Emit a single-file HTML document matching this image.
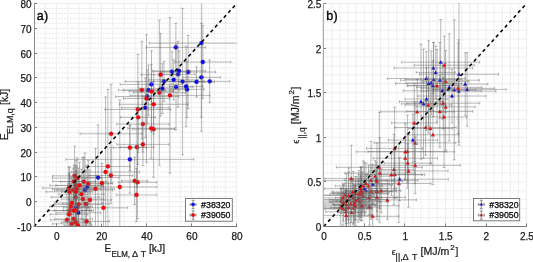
<!DOCTYPE html><html><head><meta charset="utf-8"><style>html,body{margin:0;padding:0;background:#fff;overflow:hidden}svg{display:block;will-change:transform}</style></head><body><svg width="533" height="262" viewBox="0 0 533 262">
<rect width="533" height="262" fill="#fff"/>
<line x1="45.17" y1="3.5" x2="45.17" y2="226.5" stroke="#e4e4e4" stroke-width="1" stroke-dasharray="1.8 1.2"/>
<line x1="67.70" y1="3.5" x2="67.70" y2="226.5" stroke="#e4e4e4" stroke-width="1" stroke-dasharray="1.8 1.2"/>
<line x1="78.97" y1="3.5" x2="78.97" y2="226.5" stroke="#e4e4e4" stroke-width="1" stroke-dasharray="1.8 1.2"/>
<line x1="90.23" y1="3.5" x2="90.23" y2="226.5" stroke="#e4e4e4" stroke-width="1" stroke-dasharray="1.8 1.2"/>
<line x1="112.77" y1="3.5" x2="112.77" y2="226.5" stroke="#e4e4e4" stroke-width="1" stroke-dasharray="1.8 1.2"/>
<line x1="124.03" y1="3.5" x2="124.03" y2="226.5" stroke="#e4e4e4" stroke-width="1" stroke-dasharray="1.8 1.2"/>
<line x1="135.30" y1="3.5" x2="135.30" y2="226.5" stroke="#e4e4e4" stroke-width="1" stroke-dasharray="1.8 1.2"/>
<line x1="157.83" y1="3.5" x2="157.83" y2="226.5" stroke="#e4e4e4" stroke-width="1" stroke-dasharray="1.8 1.2"/>
<line x1="169.10" y1="3.5" x2="169.10" y2="226.5" stroke="#e4e4e4" stroke-width="1" stroke-dasharray="1.8 1.2"/>
<line x1="180.37" y1="3.5" x2="180.37" y2="226.5" stroke="#e4e4e4" stroke-width="1" stroke-dasharray="1.8 1.2"/>
<line x1="202.90" y1="3.5" x2="202.90" y2="226.5" stroke="#e4e4e4" stroke-width="1" stroke-dasharray="1.8 1.2"/>
<line x1="214.17" y1="3.5" x2="214.17" y2="226.5" stroke="#e4e4e4" stroke-width="1" stroke-dasharray="1.8 1.2"/>
<line x1="225.43" y1="3.5" x2="225.43" y2="226.5" stroke="#e4e4e4" stroke-width="1" stroke-dasharray="1.8 1.2"/>
<line x1="33.9" y1="221.54" x2="236.7" y2="221.54" stroke="#e4e4e4" stroke-width="1" stroke-dasharray="1.8 1.2"/>
<line x1="33.9" y1="216.59" x2="236.7" y2="216.59" stroke="#e4e4e4" stroke-width="1" stroke-dasharray="1.8 1.2"/>
<line x1="33.9" y1="211.63" x2="236.7" y2="211.63" stroke="#e4e4e4" stroke-width="1" stroke-dasharray="1.8 1.2"/>
<line x1="33.9" y1="206.68" x2="236.7" y2="206.68" stroke="#e4e4e4" stroke-width="1" stroke-dasharray="1.8 1.2"/>
<line x1="33.9" y1="196.77" x2="236.7" y2="196.77" stroke="#e4e4e4" stroke-width="1" stroke-dasharray="1.8 1.2"/>
<line x1="33.9" y1="191.81" x2="236.7" y2="191.81" stroke="#e4e4e4" stroke-width="1" stroke-dasharray="1.8 1.2"/>
<line x1="33.9" y1="186.86" x2="236.7" y2="186.86" stroke="#e4e4e4" stroke-width="1" stroke-dasharray="1.8 1.2"/>
<line x1="33.9" y1="181.90" x2="236.7" y2="181.90" stroke="#e4e4e4" stroke-width="1" stroke-dasharray="1.8 1.2"/>
<line x1="33.9" y1="171.99" x2="236.7" y2="171.99" stroke="#e4e4e4" stroke-width="1" stroke-dasharray="1.8 1.2"/>
<line x1="33.9" y1="167.03" x2="236.7" y2="167.03" stroke="#e4e4e4" stroke-width="1" stroke-dasharray="1.8 1.2"/>
<line x1="33.9" y1="162.08" x2="236.7" y2="162.08" stroke="#e4e4e4" stroke-width="1" stroke-dasharray="1.8 1.2"/>
<line x1="33.9" y1="157.12" x2="236.7" y2="157.12" stroke="#e4e4e4" stroke-width="1" stroke-dasharray="1.8 1.2"/>
<line x1="33.9" y1="147.21" x2="236.7" y2="147.21" stroke="#e4e4e4" stroke-width="1" stroke-dasharray="1.8 1.2"/>
<line x1="33.9" y1="142.26" x2="236.7" y2="142.26" stroke="#e4e4e4" stroke-width="1" stroke-dasharray="1.8 1.2"/>
<line x1="33.9" y1="137.30" x2="236.7" y2="137.30" stroke="#e4e4e4" stroke-width="1" stroke-dasharray="1.8 1.2"/>
<line x1="33.9" y1="132.34" x2="236.7" y2="132.34" stroke="#e4e4e4" stroke-width="1" stroke-dasharray="1.8 1.2"/>
<line x1="33.9" y1="122.43" x2="236.7" y2="122.43" stroke="#e4e4e4" stroke-width="1" stroke-dasharray="1.8 1.2"/>
<line x1="33.9" y1="117.48" x2="236.7" y2="117.48" stroke="#e4e4e4" stroke-width="1" stroke-dasharray="1.8 1.2"/>
<line x1="33.9" y1="112.52" x2="236.7" y2="112.52" stroke="#e4e4e4" stroke-width="1" stroke-dasharray="1.8 1.2"/>
<line x1="33.9" y1="107.57" x2="236.7" y2="107.57" stroke="#e4e4e4" stroke-width="1" stroke-dasharray="1.8 1.2"/>
<line x1="33.9" y1="97.66" x2="236.7" y2="97.66" stroke="#e4e4e4" stroke-width="1" stroke-dasharray="1.8 1.2"/>
<line x1="33.9" y1="92.70" x2="236.7" y2="92.70" stroke="#e4e4e4" stroke-width="1" stroke-dasharray="1.8 1.2"/>
<line x1="33.9" y1="87.74" x2="236.7" y2="87.74" stroke="#e4e4e4" stroke-width="1" stroke-dasharray="1.8 1.2"/>
<line x1="33.9" y1="82.79" x2="236.7" y2="82.79" stroke="#e4e4e4" stroke-width="1" stroke-dasharray="1.8 1.2"/>
<line x1="33.9" y1="72.88" x2="236.7" y2="72.88" stroke="#e4e4e4" stroke-width="1" stroke-dasharray="1.8 1.2"/>
<line x1="33.9" y1="67.92" x2="236.7" y2="67.92" stroke="#e4e4e4" stroke-width="1" stroke-dasharray="1.8 1.2"/>
<line x1="33.9" y1="62.97" x2="236.7" y2="62.97" stroke="#e4e4e4" stroke-width="1" stroke-dasharray="1.8 1.2"/>
<line x1="33.9" y1="58.01" x2="236.7" y2="58.01" stroke="#e4e4e4" stroke-width="1" stroke-dasharray="1.8 1.2"/>
<line x1="33.9" y1="48.10" x2="236.7" y2="48.10" stroke="#e4e4e4" stroke-width="1" stroke-dasharray="1.8 1.2"/>
<line x1="33.9" y1="43.14" x2="236.7" y2="43.14" stroke="#e4e4e4" stroke-width="1" stroke-dasharray="1.8 1.2"/>
<line x1="33.9" y1="38.19" x2="236.7" y2="38.19" stroke="#e4e4e4" stroke-width="1" stroke-dasharray="1.8 1.2"/>
<line x1="33.9" y1="33.23" x2="236.7" y2="33.23" stroke="#e4e4e4" stroke-width="1" stroke-dasharray="1.8 1.2"/>
<line x1="33.9" y1="23.32" x2="236.7" y2="23.32" stroke="#e4e4e4" stroke-width="1" stroke-dasharray="1.8 1.2"/>
<line x1="33.9" y1="18.37" x2="236.7" y2="18.37" stroke="#e4e4e4" stroke-width="1" stroke-dasharray="1.8 1.2"/>
<line x1="33.9" y1="13.41" x2="236.7" y2="13.41" stroke="#e4e4e4" stroke-width="1" stroke-dasharray="1.8 1.2"/>
<line x1="33.9" y1="8.46" x2="236.7" y2="8.46" stroke="#e4e4e4" stroke-width="1" stroke-dasharray="1.8 1.2"/>
<line x1="56.43" y1="3.5" x2="56.43" y2="226.5" stroke="#ededed" stroke-width="1"/>
<line x1="101.50" y1="3.5" x2="101.50" y2="226.5" stroke="#ededed" stroke-width="1"/>
<line x1="146.57" y1="3.5" x2="146.57" y2="226.5" stroke="#ededed" stroke-width="1"/>
<line x1="191.63" y1="3.5" x2="191.63" y2="226.5" stroke="#ededed" stroke-width="1"/>
<line x1="236.70" y1="3.5" x2="236.70" y2="226.5" stroke="#ededed" stroke-width="1"/>
<line x1="33.9" y1="201.72" x2="236.7" y2="201.72" stroke="#ededed" stroke-width="1"/>
<line x1="33.9" y1="176.94" x2="236.7" y2="176.94" stroke="#ededed" stroke-width="1"/>
<line x1="33.9" y1="152.17" x2="236.7" y2="152.17" stroke="#ededed" stroke-width="1"/>
<line x1="33.9" y1="127.39" x2="236.7" y2="127.39" stroke="#ededed" stroke-width="1"/>
<line x1="33.9" y1="102.61" x2="236.7" y2="102.61" stroke="#ededed" stroke-width="1"/>
<line x1="33.9" y1="77.83" x2="236.7" y2="77.83" stroke="#ededed" stroke-width="1"/>
<line x1="33.9" y1="53.06" x2="236.7" y2="53.06" stroke="#ededed" stroke-width="1"/>
<line x1="33.9" y1="28.28" x2="236.7" y2="28.28" stroke="#ededed" stroke-width="1"/>
<line x1="33.9" y1="3.50" x2="236.7" y2="3.50" stroke="#ededed" stroke-width="1"/>
<defs><clipPath id="ca"><rect x="33.9" y="3.5" width="202.79999999999998" height="223.5"/></clipPath><clipPath id="cb"><rect x="323.7" y="3.5" width="202.90000000000003" height="223.5"/></clipPath></defs>
<g clip-path="url(#ca)">
<g stroke="#686868" stroke-width="0.45" fill="none">
<path d="M160.5 72.0H215.7M160.5 70.6V73.4M215.7 70.6V73.4"/>
<path d="M188.1 35.5V108.5M186.7 35.5H189.5M186.7 108.5H189.5"/>
</g>
<circle cx="188.1" cy="72.0" r="2.15" fill="#0000ff" stroke="#6a6a6a" stroke-width="0.35"/>
<g stroke="#686868" stroke-width="0.45" fill="none">
<path d="M57.2 190.0H112.6M57.2 188.6V191.4M112.6 188.6V191.4"/>
<path d="M84.9 153.0V227.0M83.5 153.0H86.3M83.5 227.0H86.3"/>
</g>
<circle cx="84.9" cy="190.0" r="2.15" fill="#0000ff" stroke="#6a6a6a" stroke-width="0.35"/>
<g stroke="#686868" stroke-width="0.45" fill="none">
<path d="M65.9 159.4H193.9M65.9 158.0V160.8M193.9 158.0V160.8"/>
<path d="M129.9 125.7V193.1M128.5 125.7H131.3M128.5 193.1H131.3"/>
</g>
<circle cx="129.9" cy="159.4" r="2.15" fill="#0000ff" stroke="#6a6a6a" stroke-width="0.35"/>
<g stroke="#686868" stroke-width="0.45" fill="none">
<path d="M70.7 187.0H103.9M70.7 185.6V188.4M103.9 185.6V188.4"/>
<path d="M87.3 165.0V209.0M85.9 165.0H88.7M85.9 209.0H88.7"/>
</g>
<circle cx="87.3" cy="187.0" r="2.15" fill="#0000ff" stroke="#6a6a6a" stroke-width="0.35"/>
<g stroke="#686868" stroke-width="0.45" fill="none">
<path d="M146.2 47.4H205.6M146.2 46.0V48.8M205.6 46.0V48.8"/>
<path d="M175.9 23.3V71.5M174.5 23.3H177.3M174.5 71.5H177.3"/>
</g>
<circle cx="175.9" cy="47.4" r="2.15" fill="#0000ff" stroke="#6a6a6a" stroke-width="0.35"/>
<g stroke="#686868" stroke-width="0.45" fill="none">
<path d="M160.8 74.3H195.2M160.8 72.9V75.7M195.2 72.9V75.7"/>
<path d="M178.0 41.3V107.3M176.6 41.3H179.4M176.6 107.3H179.4"/>
</g>
<circle cx="178.0" cy="74.3" r="2.15" fill="#0000ff" stroke="#6a6a6a" stroke-width="0.35"/>
<g stroke="#686868" stroke-width="0.45" fill="none">
<path d="M169.9 89.4H204.1M169.9 88.0V90.8M204.1 88.0V90.8"/>
<path d="M187.0 61.2V117.6M185.6 61.2H188.4M185.6 117.6H188.4"/>
</g>
<circle cx="187.0" cy="89.4" r="2.15" fill="#0000ff" stroke="#6a6a6a" stroke-width="0.35"/>
<g stroke="#686868" stroke-width="0.45" fill="none">
<path d="M159.1 87.1H192.9M159.1 85.7V88.5M192.9 85.7V88.5"/>
<path d="M176.0 44.3V129.9M174.6 44.3H177.4M174.6 129.9H177.4"/>
</g>
<circle cx="176.0" cy="87.1" r="2.15" fill="#0000ff" stroke="#6a6a6a" stroke-width="0.35"/>
<g stroke="#686868" stroke-width="0.45" fill="none">
<path d="M125.3 81.4H202.7M125.3 80.0V82.8M202.7 80.0V82.8"/>
<path d="M164.0 61.4V101.4M162.6 61.4H165.4M162.6 101.4H165.4"/>
</g>
<circle cx="164.0" cy="81.4" r="2.15" fill="#0000ff" stroke="#6a6a6a" stroke-width="0.35"/>
<g stroke="#686868" stroke-width="0.45" fill="none">
<path d="M182.4 77.3H220.4M182.4 75.9V78.7M220.4 75.9V78.7"/>
<path d="M201.4 23.4V131.2M200.0 23.4H202.8M200.0 131.2H202.8"/>
</g>
<circle cx="201.4" cy="77.3" r="2.15" fill="#0000ff" stroke="#6a6a6a" stroke-width="0.35"/>
<g stroke="#686868" stroke-width="0.45" fill="none">
<path d="M55.9 212.8H100.7M55.9 211.4V214.2M100.7 211.4V214.2"/>
<path d="M78.3 168.0V257.6M76.9 168.0H79.7M76.9 257.6H79.7"/>
</g>
<circle cx="78.3" cy="212.8" r="2.15" fill="#0000ff" stroke="#6a6a6a" stroke-width="0.35"/>
<g stroke="#686868" stroke-width="0.45" fill="none">
<path d="M77.3 177.6H118.9M77.3 176.2V179.0M118.9 176.2V179.0"/>
<path d="M98.1 124.9V230.3M96.7 124.9H99.5M96.7 230.3H99.5"/>
</g>
<circle cx="98.1" cy="177.6" r="2.15" fill="#0000ff" stroke="#6a6a6a" stroke-width="0.35"/>
<g stroke="#686868" stroke-width="0.45" fill="none">
<path d="M139.5 88.7H185.1M139.5 87.3V90.1M185.1 87.3V90.1"/>
<path d="M162.3 63.7V113.7M160.9 63.7H163.7M160.9 113.7H163.7"/>
</g>
<circle cx="162.3" cy="88.7" r="2.15" fill="#0000ff" stroke="#6a6a6a" stroke-width="0.35"/>
<g stroke="#686868" stroke-width="0.45" fill="none">
<path d="M153.6 71.6H190.4M153.6 70.2V73.0M190.4 70.2V73.0"/>
<path d="M172.0 51.6V91.6M170.6 51.6H173.4M170.6 91.6H173.4"/>
</g>
<circle cx="172.0" cy="71.6" r="2.15" fill="#0000ff" stroke="#6a6a6a" stroke-width="0.35"/>
<g stroke="#686868" stroke-width="0.45" fill="none">
<path d="M189.7 81.3H229.7M189.7 79.9V82.7M229.7 79.9V82.7"/>
<path d="M209.7 60.0V102.6M208.3 60.0H211.1M208.3 102.6H211.1"/>
</g>
<circle cx="209.7" cy="81.3" r="2.15" fill="#0000ff" stroke="#6a6a6a" stroke-width="0.35"/>
<g stroke="#686868" stroke-width="0.45" fill="none">
<path d="M160.7 81.6H204.5M160.7 80.2V83.0M204.5 80.2V83.0"/>
<path d="M182.6 8.3V154.9M181.2 8.3H184.0M181.2 154.9H184.0"/>
</g>
<circle cx="182.6" cy="81.6" r="2.15" fill="#0000ff" stroke="#6a6a6a" stroke-width="0.35"/>
<g stroke="#686868" stroke-width="0.45" fill="none">
<path d="M121.6 107.8H169.0M121.6 106.4V109.2M169.0 106.4V109.2"/>
<path d="M145.3 77.8V137.8M143.9 77.8H146.7M143.9 137.8H146.7"/>
</g>
<circle cx="145.3" cy="107.8" r="2.15" fill="#0000ff" stroke="#6a6a6a" stroke-width="0.35"/>
<g stroke="#686868" stroke-width="0.45" fill="none">
<path d="M149.4 43.1H253.4M149.4 41.7V44.5M253.4 41.7V44.5"/>
<path d="M201.4 -30.9V117.1M200.0 -30.9H202.8M200.0 117.1H202.8"/>
</g>
<circle cx="201.4" cy="43.1" r="2.15" fill="#0000ff" stroke="#6a6a6a" stroke-width="0.35"/>
<g stroke="#686868" stroke-width="0.45" fill="none">
<path d="M174.8 62.0H230.8M174.8 60.6V63.4M230.8 60.6V63.4"/>
<path d="M202.8 25.7V98.3M201.4 25.7H204.2M201.4 98.3H204.2"/>
</g>
<circle cx="202.8" cy="62.0" r="2.15" fill="#0000ff" stroke="#6a6a6a" stroke-width="0.35"/>
<g stroke="#686868" stroke-width="0.45" fill="none">
<path d="M63.2 207.6H89.2M63.2 206.2V209.0M89.2 206.2V209.0"/>
<path d="M76.2 166.9V248.3M74.8 166.9H77.6M74.8 248.3H77.6"/>
</g>
<circle cx="76.2" cy="207.6" r="2.15" fill="#0000ff" stroke="#6a6a6a" stroke-width="0.35"/>
<g stroke="#686868" stroke-width="0.45" fill="none">
<path d="M178.5 81.9H214.5M178.5 80.5V83.3M214.5 80.5V83.3"/>
<path d="M196.5 66.9V96.9M195.1 66.9H197.9M195.1 96.9H197.9"/>
</g>
<circle cx="196.5" cy="81.9" r="2.15" fill="#0000ff" stroke="#6a6a6a" stroke-width="0.35"/>
<g stroke="#686868" stroke-width="0.45" fill="none">
<path d="M115.6 96.5H178.8M115.6 95.1V97.9M178.8 95.1V97.9"/>
<path d="M147.2 69.9V123.1M145.8 69.9H148.6M145.8 123.1H148.6"/>
</g>
<circle cx="147.2" cy="96.5" r="2.15" fill="#0000ff" stroke="#6a6a6a" stroke-width="0.35"/>
<g stroke="#686868" stroke-width="0.45" fill="none">
<path d="M169.5 86.4H202.7M169.5 85.0V87.8M202.7 85.0V87.8"/>
<path d="M186.1 46.2V126.6M184.7 46.2H187.5M184.7 126.6H187.5"/>
</g>
<circle cx="186.1" cy="86.4" r="2.15" fill="#0000ff" stroke="#6a6a6a" stroke-width="0.35"/>
<g stroke="#686868" stroke-width="0.45" fill="none">
<path d="M152.6 70.9H205.4M152.6 69.5V72.3M205.4 69.5V72.3"/>
<path d="M179.0 50.9V90.9M177.6 50.9H180.4M177.6 90.9H180.4"/>
</g>
<circle cx="179.0" cy="70.9" r="2.15" fill="#0000ff" stroke="#6a6a6a" stroke-width="0.35"/>
<g stroke="#686868" stroke-width="0.45" fill="none">
<path d="M120.1 84.4H182.5M120.1 83.0V85.8M182.5 83.0V85.8"/>
<path d="M151.3 64.4V104.4M149.9 64.4H152.7M149.9 104.4H152.7"/>
</g>
<circle cx="151.3" cy="84.4" r="2.15" fill="#0000ff" stroke="#6a6a6a" stroke-width="0.35"/>
<g stroke="#686868" stroke-width="0.45" fill="none">
<path d="M123.3 90.2H173.7M123.3 88.8V91.6M173.7 88.8V91.6"/>
<path d="M148.5 65.2V115.2M147.1 65.2H149.9M147.1 115.2H149.9"/>
</g>
<circle cx="148.5" cy="90.2" r="2.15" fill="#0000ff" stroke="#6a6a6a" stroke-width="0.35"/>
<g stroke="#686868" stroke-width="0.45" fill="none">
<path d="M149.1 79.8H198.3M149.1 78.4V81.2M198.3 78.4V81.2"/>
<path d="M173.7 59.8V99.8M172.3 59.8H175.1M172.3 99.8H175.1"/>
</g>
<circle cx="173.7" cy="79.8" r="2.15" fill="#0000ff" stroke="#6a6a6a" stroke-width="0.35"/>
<g stroke="#686868" stroke-width="0.45" fill="none">
<path d="M54.7 204.3H102.7M54.7 202.9V205.7M102.7 202.9V205.7"/>
<path d="M78.7 179.3V229.3M77.3 179.3H80.1M77.3 229.3H80.1"/>
</g>
<circle cx="78.7" cy="204.3" r="2.15" fill="#ff0000" stroke="#6a6a6a" stroke-width="0.35"/>
<g stroke="#686868" stroke-width="0.45" fill="none">
<path d="M118.4 90.1H165.4M118.4 88.7V91.5M165.4 88.7V91.5"/>
<path d="M141.9 41.4V138.8M140.5 41.4H143.3M140.5 138.8H143.3"/>
</g>
<circle cx="141.9" cy="90.1" r="2.15" fill="#ff0000" stroke="#6a6a6a" stroke-width="0.35"/>
<g stroke="#686868" stroke-width="0.45" fill="none">
<path d="M51.3 197.2H99.7M51.3 195.8V198.6M99.7 195.8V198.6"/>
<path d="M75.5 175.2V219.2M74.1 175.2H76.9M74.1 219.2H76.9"/>
</g>
<circle cx="75.5" cy="197.2" r="2.15" fill="#ff0000" stroke="#6a6a6a" stroke-width="0.35"/>
<g stroke="#686868" stroke-width="0.45" fill="none">
<path d="M54.7 219.0H92.7M54.7 217.6V220.4M92.7 217.6V220.4"/>
<path d="M73.7 191.0V247.0M72.3 191.0H75.1M72.3 247.0H75.1"/>
</g>
<circle cx="73.7" cy="219.0" r="2.15" fill="#ff0000" stroke="#6a6a6a" stroke-width="0.35"/>
<g stroke="#686868" stroke-width="0.45" fill="none">
<path d="M60.6 181.7H107.0M60.6 180.3V183.1M107.0 180.3V183.1"/>
<path d="M83.8 157.1V206.3M82.4 157.1H85.2M82.4 206.3H85.2"/>
</g>
<circle cx="83.8" cy="181.7" r="2.15" fill="#ff0000" stroke="#6a6a6a" stroke-width="0.35"/>
<g stroke="#686868" stroke-width="0.45" fill="none">
<path d="M54.5 190.0H91.9M54.5 188.6V191.4M91.9 188.6V191.4"/>
<path d="M73.2 168.0V212.0M71.8 168.0H74.6M71.8 212.0H74.6"/>
</g>
<circle cx="73.2" cy="190.0" r="2.15" fill="#ff0000" stroke="#6a6a6a" stroke-width="0.35"/>
<g stroke="#686868" stroke-width="0.45" fill="none">
<path d="M62.8 203.9H109.0M62.8 202.5V205.3M109.0 202.5V205.3"/>
<path d="M85.9 169.9V237.9M84.5 169.9H87.3M84.5 237.9H87.3"/>
</g>
<circle cx="85.9" cy="203.9" r="2.15" fill="#ff0000" stroke="#6a6a6a" stroke-width="0.35"/>
<g stroke="#686868" stroke-width="0.45" fill="none">
<path d="M52.4 223.8H91.2M52.4 222.4V225.2M91.2 222.4V225.2"/>
<path d="M71.8 201.3V246.3M70.4 201.3H73.2M70.4 246.3H73.2"/>
</g>
<circle cx="71.8" cy="223.8" r="2.15" fill="#ff0000" stroke="#6a6a6a" stroke-width="0.35"/>
<g stroke="#686868" stroke-width="0.45" fill="none">
<path d="M67.8 183.8H108.6M67.8 182.4V185.2M108.6 182.4V185.2"/>
<path d="M88.2 160.4V207.2M86.8 160.4H89.6M86.8 207.2H89.6"/>
</g>
<circle cx="88.2" cy="183.8" r="2.15" fill="#ff0000" stroke="#6a6a6a" stroke-width="0.35"/>
<g stroke="#686868" stroke-width="0.45" fill="none">
<path d="M82.8 187.0H156.8M82.8 185.6V188.4M156.8 185.6V188.4"/>
<path d="M119.8 100.0V274.0M118.4 100.0H121.2M118.4 274.0H121.2"/>
</g>
<circle cx="119.8" cy="187.0" r="2.15" fill="#ff0000" stroke="#6a6a6a" stroke-width="0.35"/>
<g stroke="#686868" stroke-width="0.45" fill="none">
<path d="M61.6 199.1H104.0M61.6 197.7V200.5M104.0 197.7V200.5"/>
<path d="M82.8 157.5V240.7M81.4 157.5H84.2M81.4 240.7H84.2"/>
</g>
<circle cx="82.8" cy="199.1" r="2.15" fill="#ff0000" stroke="#6a6a6a" stroke-width="0.35"/>
<g stroke="#686868" stroke-width="0.45" fill="none">
<path d="M50.4 219.8H83.6M50.4 218.4V221.2M83.6 218.4V221.2"/>
<path d="M67.0 191.4V248.2M65.6 191.4H68.4M65.6 248.2H68.4"/>
</g>
<circle cx="67.0" cy="219.8" r="2.15" fill="#ff0000" stroke="#6a6a6a" stroke-width="0.35"/>
<g stroke="#686868" stroke-width="0.45" fill="none">
<path d="M63.9 221.4H109.3M63.9 220.0V222.8M109.3 220.0V222.8"/>
<path d="M86.6 202.8V240.0M85.2 202.8H88.0M85.2 240.0H88.0"/>
</g>
<circle cx="86.6" cy="221.4" r="2.15" fill="#ff0000" stroke="#6a6a6a" stroke-width="0.35"/>
<g stroke="#686868" stroke-width="0.45" fill="none">
<path d="M123.5 98.5H169.5M123.5 97.1V99.9M169.5 97.1V99.9"/>
<path d="M146.5 34.7V162.3M145.1 34.7H147.9M145.1 162.3H147.9"/>
</g>
<circle cx="146.5" cy="98.5" r="2.15" fill="#ff0000" stroke="#6a6a6a" stroke-width="0.35"/>
<g stroke="#686868" stroke-width="0.45" fill="none">
<path d="M120.0 147.2H153.8M120.0 145.8V148.6M153.8 145.8V148.6"/>
<path d="M136.9 107.2V187.2M135.5 107.2H138.3M135.5 187.2H138.3"/>
</g>
<circle cx="136.9" cy="147.2" r="2.15" fill="#ff0000" stroke="#6a6a6a" stroke-width="0.35"/>
<g stroke="#686868" stroke-width="0.45" fill="none">
<path d="M104.9 109.5H170.9M104.9 108.1V110.9M170.9 108.1V110.9"/>
<path d="M137.9 54.5V164.5M136.5 54.5H139.3M136.5 164.5H139.3"/>
</g>
<circle cx="137.9" cy="109.5" r="2.15" fill="#ff0000" stroke="#6a6a6a" stroke-width="0.35"/>
<g stroke="#686868" stroke-width="0.45" fill="none">
<path d="M79.3 207.8H127.7M79.3 206.4V209.2M127.7 206.4V209.2"/>
<path d="M103.5 181.7V233.9M102.1 181.7H104.9M102.1 233.9H104.9"/>
</g>
<circle cx="103.5" cy="207.8" r="2.15" fill="#ff0000" stroke="#6a6a6a" stroke-width="0.35"/>
<g stroke="#686868" stroke-width="0.45" fill="none">
<path d="M132.6 129.2H174.6M132.6 127.8V130.6M174.6 127.8V130.6"/>
<path d="M153.6 81.2V177.2M152.2 81.2H155.0M152.2 177.2H155.0"/>
</g>
<circle cx="153.6" cy="129.2" r="2.15" fill="#ff0000" stroke="#6a6a6a" stroke-width="0.35"/>
<g stroke="#686868" stroke-width="0.45" fill="none">
<path d="M88.9 175.5H132.9M88.9 174.1V176.9M132.9 174.1V176.9"/>
<path d="M110.9 147.4V203.6M109.5 147.4H112.3M109.5 203.6H112.3"/>
</g>
<circle cx="110.9" cy="175.5" r="2.15" fill="#ff0000" stroke="#6a6a6a" stroke-width="0.35"/>
<g stroke="#686868" stroke-width="0.45" fill="none">
<path d="M80.1 133.8H142.1M80.1 132.4V135.2M142.1 132.4V135.2"/>
<path d="M111.1 84.2V183.4M109.7 84.2H112.5M109.7 183.4H112.5"/>
</g>
<circle cx="111.1" cy="133.8" r="2.15" fill="#ff0000" stroke="#6a6a6a" stroke-width="0.35"/>
<g stroke="#686868" stroke-width="0.45" fill="none">
<path d="M85.7 166.4H130.1M85.7 165.0V167.8M130.1 165.0V167.8"/>
<path d="M107.9 89.4V243.4M106.5 89.4H109.3M106.5 243.4H109.3"/>
</g>
<circle cx="107.9" cy="166.4" r="2.15" fill="#ff0000" stroke="#6a6a6a" stroke-width="0.35"/>
<g stroke="#686868" stroke-width="0.45" fill="none">
<path d="M47.6 210.6H91.6M47.6 209.2V212.0M91.6 209.2V212.0"/>
<path d="M69.6 167.1V254.1M68.2 167.1H71.0M68.2 254.1H71.0"/>
</g>
<circle cx="69.6" cy="210.6" r="2.15" fill="#ff0000" stroke="#6a6a6a" stroke-width="0.35"/>
<g stroke="#686868" stroke-width="0.45" fill="none">
<path d="M116.7 124.1H169.1M116.7 122.7V125.5M169.1 122.7V125.5"/>
<path d="M142.9 96.1V152.1M141.5 96.1H144.3M141.5 152.1H144.3"/>
</g>
<circle cx="142.9" cy="124.1" r="2.15" fill="#ff0000" stroke="#6a6a6a" stroke-width="0.35"/>
<g stroke="#686868" stroke-width="0.45" fill="none">
<path d="M121.6 180.9H147.6M121.6 179.5V182.3M147.6 179.5V182.3"/>
<path d="M134.6 157.3V204.5M133.2 157.3H136.0M133.2 204.5H136.0"/>
</g>
<circle cx="134.6" cy="180.9" r="2.15" fill="#ff0000" stroke="#6a6a6a" stroke-width="0.35"/>
<g stroke="#686868" stroke-width="0.45" fill="none">
<path d="M58.7 194.2H104.1M58.7 192.8V195.6M104.1 192.8V195.6"/>
<path d="M81.4 169.2V219.2M80.0 169.2H82.8M80.0 219.2H82.8"/>
</g>
<circle cx="81.4" cy="194.2" r="2.15" fill="#ff0000" stroke="#6a6a6a" stroke-width="0.35"/>
<g stroke="#686868" stroke-width="0.45" fill="none">
<path d="M116.9 144.4H168.9M116.9 143.0V145.8M168.9 143.0V145.8"/>
<path d="M142.9 123.2V165.6M141.5 123.2H144.3M141.5 165.6H144.3"/>
</g>
<circle cx="142.9" cy="144.4" r="2.15" fill="#ff0000" stroke="#6a6a6a" stroke-width="0.35"/>
<g stroke="#686868" stroke-width="0.45" fill="none">
<path d="M118.1 182.3H156.9M118.1 180.9V183.7M156.9 180.9V183.7"/>
<path d="M137.5 145.9V218.7M136.1 145.9H138.9M136.1 218.7H138.9"/>
</g>
<circle cx="137.5" cy="182.3" r="2.15" fill="#ff0000" stroke="#6a6a6a" stroke-width="0.35"/>
<g stroke="#686868" stroke-width="0.45" fill="none">
<path d="M42.7 188.1H94.7M42.7 186.7V189.5M94.7 186.7V189.5"/>
<path d="M68.7 166.9V209.3M67.3 166.9H70.1M67.3 209.3H70.1"/>
</g>
<circle cx="68.7" cy="188.1" r="2.15" fill="#ff0000" stroke="#6a6a6a" stroke-width="0.35"/>
<g stroke="#686868" stroke-width="0.45" fill="none">
<path d="M49.9 185.4H101.9M49.9 184.0V186.8M101.9 184.0V186.8"/>
<path d="M75.9 165.4V205.4M74.5 165.4H77.3M74.5 205.4H77.3"/>
</g>
<circle cx="75.9" cy="185.4" r="2.15" fill="#ff0000" stroke="#6a6a6a" stroke-width="0.35"/>
<g stroke="#686868" stroke-width="0.45" fill="none">
<path d="M113.3 147.6H146.5M113.3 146.2V149.0M146.5 146.2V149.0"/>
<path d="M129.9 124.7V170.5M128.5 124.7H131.3M128.5 170.5H131.3"/>
</g>
<circle cx="129.9" cy="147.6" r="2.15" fill="#ff0000" stroke="#6a6a6a" stroke-width="0.35"/>
<g stroke="#686868" stroke-width="0.45" fill="none">
<path d="M63.3 210.4H89.3M63.3 209.0V211.8M89.3 209.0V211.8"/>
<path d="M76.3 173.5V247.3M74.9 173.5H77.7M74.9 247.3H77.7"/>
</g>
<circle cx="76.3" cy="210.4" r="2.15" fill="#ff0000" stroke="#6a6a6a" stroke-width="0.35"/>
<g stroke="#686868" stroke-width="0.45" fill="none">
<path d="M49.7 206.6H92.3M49.7 205.2V208.0M92.3 205.2V208.0"/>
<path d="M71.0 176.3V236.9M69.6 176.3H72.4M69.6 236.9H72.4"/>
</g>
<circle cx="71.0" cy="206.6" r="2.15" fill="#ff0000" stroke="#6a6a6a" stroke-width="0.35"/>
<g stroke="#686868" stroke-width="0.45" fill="none">
<path d="M119.4 104.3H188.0M119.4 102.9V105.7M188.0 102.9V105.7"/>
<path d="M153.7 74.3V134.3M152.3 74.3H155.1M152.3 134.3H155.1"/>
</g>
<circle cx="153.7" cy="104.3" r="2.15" fill="#ff0000" stroke="#6a6a6a" stroke-width="0.35"/>
<g stroke="#686868" stroke-width="0.45" fill="none">
<path d="M76.7 188.9H114.3M76.7 187.5V190.3M114.3 187.5V190.3"/>
<path d="M95.5 148.4V229.4M94.1 148.4H96.9M94.1 229.4H96.9"/>
</g>
<circle cx="95.5" cy="188.9" r="2.15" fill="#ff0000" stroke="#6a6a6a" stroke-width="0.35"/>
<g stroke="#686868" stroke-width="0.45" fill="none">
<path d="M120.7 117.3H155.7M120.7 115.9V118.7M155.7 115.9V118.7"/>
<path d="M138.2 82.2V152.4M136.8 82.2H139.6M136.8 152.4H139.6"/>
</g>
<circle cx="138.2" cy="117.3" r="2.15" fill="#ff0000" stroke="#6a6a6a" stroke-width="0.35"/>
<g stroke="#686868" stroke-width="0.45" fill="none">
<path d="M52.5 178.1H101.9M52.5 176.7V179.5M101.9 176.7V179.5"/>
<path d="M77.2 158.1V198.1M75.8 158.1H78.6M75.8 198.1H78.6"/>
</g>
<circle cx="77.2" cy="178.1" r="2.15" fill="#ff0000" stroke="#6a6a6a" stroke-width="0.35"/>
<g stroke="#686868" stroke-width="0.45" fill="none">
<path d="M52.3 189.0H100.5M52.3 187.6V190.4M100.5 187.6V190.4"/>
<path d="M76.4 171.0V207.0M75.0 171.0H77.8M75.0 207.0H77.8"/>
</g>
<circle cx="76.4" cy="189.0" r="2.15" fill="#ff0000" stroke="#6a6a6a" stroke-width="0.35"/>
<g stroke="#686868" stroke-width="0.45" fill="none">
<path d="M68.6 200.0H111.4M68.6 198.6V201.4M111.4 198.6V201.4"/>
<path d="M90.0 169.8V230.2M88.6 169.8H91.4M88.6 230.2H91.4"/>
</g>
<circle cx="90.0" cy="200.0" r="2.15" fill="#ff0000" stroke="#6a6a6a" stroke-width="0.35"/>
<g stroke="#686868" stroke-width="0.45" fill="none">
<path d="M52.6 175.8H96.6M52.6 174.4V177.2M96.6 174.4V177.2"/>
<path d="M74.6 146.2V205.4M73.2 146.2H76.0M73.2 205.4H76.0"/>
</g>
<circle cx="74.6" cy="175.8" r="2.15" fill="#ff0000" stroke="#6a6a6a" stroke-width="0.35"/>
<g stroke="#686868" stroke-width="0.45" fill="none">
<path d="M61.4 222.5H90.2M61.4 221.1V223.9M90.2 221.1V223.9"/>
<path d="M75.8 192.5V252.5M74.4 192.5H77.2M74.4 252.5H77.2"/>
</g>
<circle cx="75.8" cy="222.5" r="2.15" fill="#ff0000" stroke="#6a6a6a" stroke-width="0.35"/>
<g stroke="#686868" stroke-width="0.45" fill="none">
<path d="M46.0 191.8H93.0M46.0 190.4V193.2M93.0 190.4V193.2"/>
<path d="M69.5 172.7V210.9M68.1 172.7H70.9M68.1 210.9H70.9"/>
</g>
<circle cx="69.5" cy="191.8" r="2.15" fill="#ff0000" stroke="#6a6a6a" stroke-width="0.35"/>
<g stroke="#686868" stroke-width="0.45" fill="none">
<path d="M52.7 181.4H95.1M52.7 180.0V182.8M95.1 180.0V182.8"/>
<path d="M73.9 165.0V197.8M72.5 165.0H75.3M72.5 197.8H75.3"/>
</g>
<circle cx="73.9" cy="181.4" r="2.15" fill="#ff0000" stroke="#6a6a6a" stroke-width="0.35"/>
<g stroke="#686868" stroke-width="0.45" fill="none">
<path d="M71.6 172.0H139.6M71.6 170.6V173.4M139.6 170.6V173.4"/>
<path d="M105.6 97.0V247.0M104.2 97.0H107.0M104.2 247.0H107.0"/>
</g>
<circle cx="105.6" cy="172.0" r="2.15" fill="#ff0000" stroke="#6a6a6a" stroke-width="0.35"/>
<g stroke="#686868" stroke-width="0.45" fill="none">
<path d="M133.4 92.7H185.4M133.4 91.3V94.1M185.4 91.3V94.1"/>
<path d="M159.4 20.2V165.2M158.0 20.2H160.8M158.0 165.2H160.8"/>
</g>
<circle cx="159.4" cy="92.7" r="2.15" fill="#ff0000" stroke="#6a6a6a" stroke-width="0.35"/>
<g stroke="#686868" stroke-width="0.45" fill="none">
<path d="M90.9 183.1H112.9M90.9 181.7V184.5M112.9 181.7V184.5"/>
<path d="M101.9 163.4V202.8M100.5 163.4H103.3M100.5 202.8H103.3"/>
</g>
<circle cx="101.9" cy="183.1" r="2.15" fill="#ff0000" stroke="#6a6a6a" stroke-width="0.35"/>
<g stroke="#686868" stroke-width="0.45" fill="none">
<path d="M130.0 95.4H210.0M130.0 94.0V96.8M210.0 94.0V96.8"/>
<path d="M170.0 17.6V173.2M168.6 17.6H171.4M168.6 173.2H171.4"/>
</g>
<circle cx="170.0" cy="95.4" r="2.15" fill="#ff0000" stroke="#6a6a6a" stroke-width="0.35"/>
<g stroke="#686868" stroke-width="0.45" fill="none">
<path d="M61.5 191.8H90.3M61.5 190.4V193.2M90.3 190.4V193.2"/>
<path d="M75.9 160.6V223.0M74.5 160.6H77.3M74.5 223.0H77.3"/>
</g>
<circle cx="75.9" cy="191.8" r="2.15" fill="#ff0000" stroke="#6a6a6a" stroke-width="0.35"/>
<g stroke="#686868" stroke-width="0.45" fill="none">
<path d="M127.8 128.4H174.8M127.8 127.0V129.8M174.8 127.0V129.8"/>
<path d="M151.3 98.4V158.4M149.9 98.4H152.7M149.9 158.4H152.7"/>
</g>
<circle cx="151.3" cy="128.4" r="2.15" fill="#ff0000" stroke="#6a6a6a" stroke-width="0.35"/>
<g stroke="#686868" stroke-width="0.45" fill="none">
<path d="M129.2 91.4H173.8M129.2 90.0V92.8M173.8 90.0V92.8"/>
<path d="M151.5 50.8V132.0M150.1 50.8H152.9M150.1 132.0H152.9"/>
</g>
<circle cx="151.5" cy="91.4" r="2.15" fill="#ff0000" stroke="#6a6a6a" stroke-width="0.35"/>
<g stroke="#686868" stroke-width="0.45" fill="none">
<path d="M50.0 214.3H88.0M50.0 212.9V215.7M88.0 212.9V215.7"/>
<path d="M69.0 174.1V254.5M67.6 174.1H70.4M67.6 254.5H70.4"/>
</g>
<circle cx="69.0" cy="214.3" r="2.15" fill="#ff0000" stroke="#6a6a6a" stroke-width="0.35"/>
<g stroke="#686868" stroke-width="0.45" fill="none">
<path d="M54.9 202.9H88.9M54.9 201.5V204.3M88.9 201.5V204.3"/>
<path d="M71.9 177.9V227.9M70.5 177.9H73.3M70.5 227.9H73.3"/>
</g>
<circle cx="71.9" cy="202.9" r="2.15" fill="#ff0000" stroke="#6a6a6a" stroke-width="0.35"/>
<g stroke="#686868" stroke-width="0.45" fill="none">
<path d="M141.0 74.7H180.2M141.0 73.3V76.1M180.2 73.3V76.1"/>
<path d="M160.6 33.4V116.0M159.2 33.4H162.0M159.2 116.0H162.0"/>
</g>
<circle cx="160.6" cy="74.7" r="2.15" fill="#ff0000" stroke="#6a6a6a" stroke-width="0.35"/>
<g stroke="#686868" stroke-width="0.45" fill="none">
<path d="M54.3 210.5H93.5M54.3 209.1V211.9M93.5 209.1V211.9"/>
<path d="M73.9 174.6V246.4M72.5 174.6H75.3M72.5 246.4H75.3"/>
</g>
<circle cx="73.9" cy="210.5" r="2.15" fill="#ff0000" stroke="#6a6a6a" stroke-width="0.35"/>
<g stroke="#686868" stroke-width="0.45" fill="none">
<path d="M116.3 194.9H156.7M116.3 193.5V196.3M156.7 193.5V196.3"/>
<path d="M136.5 168.4V221.4M135.1 168.4H137.9M135.1 221.4H137.9"/>
</g>
<circle cx="136.5" cy="194.9" r="2.15" fill="#ff0000" stroke="#6a6a6a" stroke-width="0.35"/>
<g stroke="#686868" stroke-width="0.45" fill="none">
<path d="M55.9 185.4H103.3M55.9 184.0V186.8M103.3 184.0V186.8"/>
<path d="M79.6 162.4V208.4M78.2 162.4H81.0M78.2 208.4H81.0"/>
</g>
<circle cx="79.6" cy="185.4" r="2.15" fill="#ff0000" stroke="#6a6a6a" stroke-width="0.35"/>
<g stroke="#686868" stroke-width="0.45" fill="none">
<path d="M64.0 225.3H91.8M64.0 223.9V226.7M91.8 223.9V226.7"/>
<path d="M77.9 205.7V244.9M76.5 205.7H79.3M76.5 244.9H79.3"/>
</g>
<circle cx="77.9" cy="225.3" r="2.15" fill="#ff0000" stroke="#6a6a6a" stroke-width="0.35"/>
</g>
<line x1="331.82" y1="3.5" x2="331.82" y2="226.5" stroke="#e4e4e4" stroke-width="1" stroke-dasharray="1.8 1.2"/>
<line x1="339.93" y1="3.5" x2="339.93" y2="226.5" stroke="#e4e4e4" stroke-width="1" stroke-dasharray="1.8 1.2"/>
<line x1="348.05" y1="3.5" x2="348.05" y2="226.5" stroke="#e4e4e4" stroke-width="1" stroke-dasharray="1.8 1.2"/>
<line x1="356.16" y1="3.5" x2="356.16" y2="226.5" stroke="#e4e4e4" stroke-width="1" stroke-dasharray="1.8 1.2"/>
<line x1="372.40" y1="3.5" x2="372.40" y2="226.5" stroke="#e4e4e4" stroke-width="1" stroke-dasharray="1.8 1.2"/>
<line x1="380.51" y1="3.5" x2="380.51" y2="226.5" stroke="#e4e4e4" stroke-width="1" stroke-dasharray="1.8 1.2"/>
<line x1="388.63" y1="3.5" x2="388.63" y2="226.5" stroke="#e4e4e4" stroke-width="1" stroke-dasharray="1.8 1.2"/>
<line x1="396.74" y1="3.5" x2="396.74" y2="226.5" stroke="#e4e4e4" stroke-width="1" stroke-dasharray="1.8 1.2"/>
<line x1="412.98" y1="3.5" x2="412.98" y2="226.5" stroke="#e4e4e4" stroke-width="1" stroke-dasharray="1.8 1.2"/>
<line x1="421.09" y1="3.5" x2="421.09" y2="226.5" stroke="#e4e4e4" stroke-width="1" stroke-dasharray="1.8 1.2"/>
<line x1="429.21" y1="3.5" x2="429.21" y2="226.5" stroke="#e4e4e4" stroke-width="1" stroke-dasharray="1.8 1.2"/>
<line x1="437.32" y1="3.5" x2="437.32" y2="226.5" stroke="#e4e4e4" stroke-width="1" stroke-dasharray="1.8 1.2"/>
<line x1="453.56" y1="3.5" x2="453.56" y2="226.5" stroke="#e4e4e4" stroke-width="1" stroke-dasharray="1.8 1.2"/>
<line x1="461.67" y1="3.5" x2="461.67" y2="226.5" stroke="#e4e4e4" stroke-width="1" stroke-dasharray="1.8 1.2"/>
<line x1="469.79" y1="3.5" x2="469.79" y2="226.5" stroke="#e4e4e4" stroke-width="1" stroke-dasharray="1.8 1.2"/>
<line x1="477.90" y1="3.5" x2="477.90" y2="226.5" stroke="#e4e4e4" stroke-width="1" stroke-dasharray="1.8 1.2"/>
<line x1="494.14" y1="3.5" x2="494.14" y2="226.5" stroke="#e4e4e4" stroke-width="1" stroke-dasharray="1.8 1.2"/>
<line x1="502.25" y1="3.5" x2="502.25" y2="226.5" stroke="#e4e4e4" stroke-width="1" stroke-dasharray="1.8 1.2"/>
<line x1="510.37" y1="3.5" x2="510.37" y2="226.5" stroke="#e4e4e4" stroke-width="1" stroke-dasharray="1.8 1.2"/>
<line x1="518.48" y1="3.5" x2="518.48" y2="226.5" stroke="#e4e4e4" stroke-width="1" stroke-dasharray="1.8 1.2"/>
<line x1="323.7" y1="217.58" x2="526.6" y2="217.58" stroke="#e4e4e4" stroke-width="1" stroke-dasharray="1.8 1.2"/>
<line x1="323.7" y1="208.66" x2="526.6" y2="208.66" stroke="#e4e4e4" stroke-width="1" stroke-dasharray="1.8 1.2"/>
<line x1="323.7" y1="199.74" x2="526.6" y2="199.74" stroke="#e4e4e4" stroke-width="1" stroke-dasharray="1.8 1.2"/>
<line x1="323.7" y1="190.82" x2="526.6" y2="190.82" stroke="#e4e4e4" stroke-width="1" stroke-dasharray="1.8 1.2"/>
<line x1="323.7" y1="172.98" x2="526.6" y2="172.98" stroke="#e4e4e4" stroke-width="1" stroke-dasharray="1.8 1.2"/>
<line x1="323.7" y1="164.06" x2="526.6" y2="164.06" stroke="#e4e4e4" stroke-width="1" stroke-dasharray="1.8 1.2"/>
<line x1="323.7" y1="155.14" x2="526.6" y2="155.14" stroke="#e4e4e4" stroke-width="1" stroke-dasharray="1.8 1.2"/>
<line x1="323.7" y1="146.22" x2="526.6" y2="146.22" stroke="#e4e4e4" stroke-width="1" stroke-dasharray="1.8 1.2"/>
<line x1="323.7" y1="128.38" x2="526.6" y2="128.38" stroke="#e4e4e4" stroke-width="1" stroke-dasharray="1.8 1.2"/>
<line x1="323.7" y1="119.46" x2="526.6" y2="119.46" stroke="#e4e4e4" stroke-width="1" stroke-dasharray="1.8 1.2"/>
<line x1="323.7" y1="110.54" x2="526.6" y2="110.54" stroke="#e4e4e4" stroke-width="1" stroke-dasharray="1.8 1.2"/>
<line x1="323.7" y1="101.62" x2="526.6" y2="101.62" stroke="#e4e4e4" stroke-width="1" stroke-dasharray="1.8 1.2"/>
<line x1="323.7" y1="83.78" x2="526.6" y2="83.78" stroke="#e4e4e4" stroke-width="1" stroke-dasharray="1.8 1.2"/>
<line x1="323.7" y1="74.86" x2="526.6" y2="74.86" stroke="#e4e4e4" stroke-width="1" stroke-dasharray="1.8 1.2"/>
<line x1="323.7" y1="65.94" x2="526.6" y2="65.94" stroke="#e4e4e4" stroke-width="1" stroke-dasharray="1.8 1.2"/>
<line x1="323.7" y1="57.02" x2="526.6" y2="57.02" stroke="#e4e4e4" stroke-width="1" stroke-dasharray="1.8 1.2"/>
<line x1="323.7" y1="39.18" x2="526.6" y2="39.18" stroke="#e4e4e4" stroke-width="1" stroke-dasharray="1.8 1.2"/>
<line x1="323.7" y1="30.26" x2="526.6" y2="30.26" stroke="#e4e4e4" stroke-width="1" stroke-dasharray="1.8 1.2"/>
<line x1="323.7" y1="21.34" x2="526.6" y2="21.34" stroke="#e4e4e4" stroke-width="1" stroke-dasharray="1.8 1.2"/>
<line x1="323.7" y1="12.42" x2="526.6" y2="12.42" stroke="#e4e4e4" stroke-width="1" stroke-dasharray="1.8 1.2"/>
<line x1="364.28" y1="3.5" x2="364.28" y2="226.5" stroke="#ededed" stroke-width="1"/>
<line x1="404.86" y1="3.5" x2="404.86" y2="226.5" stroke="#ededed" stroke-width="1"/>
<line x1="445.44" y1="3.5" x2="445.44" y2="226.5" stroke="#ededed" stroke-width="1"/>
<line x1="486.02" y1="3.5" x2="486.02" y2="226.5" stroke="#ededed" stroke-width="1"/>
<line x1="526.60" y1="3.5" x2="526.60" y2="226.5" stroke="#ededed" stroke-width="1"/>
<line x1="323.7" y1="181.90" x2="526.6" y2="181.90" stroke="#ededed" stroke-width="1"/>
<line x1="323.7" y1="137.30" x2="526.6" y2="137.30" stroke="#ededed" stroke-width="1"/>
<line x1="323.7" y1="92.70" x2="526.6" y2="92.70" stroke="#ededed" stroke-width="1"/>
<line x1="323.7" y1="48.10" x2="526.6" y2="48.10" stroke="#ededed" stroke-width="1"/>
<line x1="323.7" y1="3.50" x2="526.6" y2="3.50" stroke="#ededed" stroke-width="1"/>
<g clip-path="url(#cb)">
<g stroke="#686868" stroke-width="0.45" fill="none">
<path d="M405.2 79.5H462.0M405.2 78.1V80.9M462.0 78.1V80.9"/>
<path d="M433.6 42.5V116.5M432.2 42.5H435.0M432.2 116.5H435.0"/>
</g>
<path d="M433.6 77.5L435.5 81.0H431.8Z" fill="#0000ff" stroke="#6a6a6a" stroke-width="0.3"/>
<g stroke="#686868" stroke-width="0.45" fill="none">
<path d="M341.3 188.6H387.7M341.3 187.2V190.0M387.7 187.2V190.0"/>
<path d="M364.5 162.2V215.0M363.1 162.2H365.9M363.1 215.0H365.9"/>
</g>
<path d="M364.5 186.6L366.4 190.1H362.6Z" fill="#0000ff" stroke="#6a6a6a" stroke-width="0.3"/>
<g stroke="#686868" stroke-width="0.45" fill="none">
<path d="M421.5 91.1H495.9M421.5 89.7V92.5M495.9 89.7V92.5"/>
<path d="M458.7 39.9V142.3M457.3 39.9H460.1M457.3 142.3H460.1"/>
</g>
<path d="M458.7 89.1L460.6 92.6H456.8Z" fill="#0000ff" stroke="#6a6a6a" stroke-width="0.3"/>
<g stroke="#686868" stroke-width="0.45" fill="none">
<path d="M350.9 179.2H448.3M350.9 177.8V180.6M448.3 177.8V180.6"/>
<path d="M399.6 157.7V200.7M398.2 157.7H401.0M398.2 200.7H401.0"/>
</g>
<path d="M399.6 177.2L401.5 180.7H397.8Z" fill="#0000ff" stroke="#6a6a6a" stroke-width="0.3"/>
<g stroke="#686868" stroke-width="0.45" fill="none">
<path d="M406.1 82.9H456.3M406.1 81.5V84.3M456.3 81.5V84.3"/>
<path d="M431.2 50.9V114.9M429.8 50.9H432.6M429.8 114.9H432.6"/>
</g>
<path d="M431.2 80.9L433.1 84.4H429.3Z" fill="#0000ff" stroke="#6a6a6a" stroke-width="0.3"/>
<g stroke="#686868" stroke-width="0.45" fill="none">
<path d="M352.9 184.5H392.7M352.9 183.1V185.9M392.7 183.1V185.9"/>
<path d="M372.8 164.6V204.4M371.4 164.6H374.2M371.4 204.4H374.2"/>
</g>
<path d="M372.8 182.5L374.7 186.0H370.9Z" fill="#0000ff" stroke="#6a6a6a" stroke-width="0.3"/>
<g stroke="#686868" stroke-width="0.45" fill="none">
<path d="M418.0 96.0H486.0M418.0 94.6V97.4M486.0 94.6V97.4"/>
<path d="M452.0 69.1V122.9M450.6 69.1H453.4M450.6 122.9H453.4"/>
</g>
<path d="M452.0 94.0L453.9 97.5H450.1Z" fill="#0000ff" stroke="#6a6a6a" stroke-width="0.3"/>
<g stroke="#686868" stroke-width="0.45" fill="none">
<path d="M433.1 89.8H475.5M433.1 88.4V91.2M475.5 88.4V91.2"/>
<path d="M454.3 19.8V159.8M452.9 19.8H455.7M452.9 159.8H455.7"/>
</g>
<path d="M454.3 87.8L456.2 91.3H452.4Z" fill="#0000ff" stroke="#6a6a6a" stroke-width="0.3"/>
<g stroke="#686868" stroke-width="0.45" fill="none">
<path d="M394.2 68.0H472.6M394.2 66.6V69.4M472.6 66.6V69.4"/>
<path d="M433.4 42.4V93.6M432.0 42.4H434.8M432.0 93.6H434.8"/>
</g>
<path d="M433.4 66.0L435.2 69.5H431.5Z" fill="#0000ff" stroke="#6a6a6a" stroke-width="0.3"/>
<g stroke="#686868" stroke-width="0.45" fill="none">
<path d="M416.7 87.3H481.7M416.7 85.9V88.7M481.7 85.9V88.7"/>
<path d="M449.2 33.7V140.9M447.8 33.7H450.6M447.8 140.9H450.6"/>
</g>
<path d="M449.2 85.3L451.1 88.8H447.3Z" fill="#0000ff" stroke="#6a6a6a" stroke-width="0.3"/>
<g stroke="#686868" stroke-width="0.45" fill="none">
<path d="M428.1 89.4H506.1M428.1 88.0V90.8M506.1 88.0V90.8"/>
<path d="M467.1 52.6V126.2M465.7 52.6H468.5M465.7 126.2H468.5"/>
</g>
<path d="M467.1 87.4L469.0 90.9H465.2Z" fill="#0000ff" stroke="#6a6a6a" stroke-width="0.3"/>
<g stroke="#686868" stroke-width="0.45" fill="none">
<path d="M387.3 78.5H465.3M387.3 77.1V79.9M465.3 77.1V79.9"/>
<path d="M426.3 51.7V105.3M424.9 51.7H427.7M424.9 105.3H427.7"/>
</g>
<path d="M426.3 76.5L428.2 80.0H424.4Z" fill="#0000ff" stroke="#6a6a6a" stroke-width="0.3"/>
<g stroke="#686868" stroke-width="0.45" fill="none">
<path d="M401.7 62.2H479.7M401.7 60.8V63.6M479.7 60.8V63.6"/>
<path d="M440.7 19.5V104.9M439.3 19.5H442.1M439.3 104.9H442.1"/>
</g>
<path d="M440.7 60.2L442.6 63.7H438.8Z" fill="#0000ff" stroke="#6a6a6a" stroke-width="0.3"/>
<g stroke="#686868" stroke-width="0.45" fill="none">
<path d="M344.9 190.5H387.1M344.9 189.1V191.9M387.1 189.1V191.9"/>
<path d="M366.0 174.6V206.4M364.6 174.6H367.4M364.6 206.4H367.4"/>
</g>
<path d="M366.0 188.5L367.9 192.0H364.1Z" fill="#0000ff" stroke="#6a6a6a" stroke-width="0.3"/>
<g stroke="#686868" stroke-width="0.45" fill="none">
<path d="M400.4 80.2H479.4M400.4 78.8V81.6M479.4 78.8V81.6"/>
<path d="M439.9 42.4V118.0M438.5 42.4H441.3M438.5 118.0H441.3"/>
</g>
<path d="M439.9 78.2L441.8 81.7H438.0Z" fill="#0000ff" stroke="#6a6a6a" stroke-width="0.3"/>
<g stroke="#686868" stroke-width="0.45" fill="none">
<path d="M405.0 99.0H448.0M405.0 97.6V100.4M448.0 97.6V100.4"/>
<path d="M426.5 67.7V130.3M425.1 67.7H427.9M425.1 130.3H427.9"/>
</g>
<path d="M426.5 97.0L428.4 100.5H424.6Z" fill="#0000ff" stroke="#6a6a6a" stroke-width="0.3"/>
<g stroke="#686868" stroke-width="0.45" fill="none">
<path d="M442.6 84.1H487.8M442.6 82.7V85.5M487.8 82.7V85.5"/>
<path d="M465.2 52.9V115.3M463.8 52.9H466.6M463.8 115.3H466.6"/>
</g>
<path d="M465.2 82.1L467.1 85.6H463.3Z" fill="#0000ff" stroke="#6a6a6a" stroke-width="0.3"/>
<g stroke="#686868" stroke-width="0.45" fill="none">
<path d="M358.8 180.2H394.0M358.8 178.8V181.6M394.0 178.8V181.6"/>
<path d="M376.4 162.2V198.2M375.0 162.2H377.8M375.0 198.2H377.8"/>
</g>
<path d="M376.4 178.2L378.2 181.7H374.5Z" fill="#0000ff" stroke="#6a6a6a" stroke-width="0.3"/>
<g stroke="#686868" stroke-width="0.45" fill="none">
<path d="M401.5 103.8H445.5M401.5 102.4V105.2M445.5 102.4V105.2"/>
<path d="M423.5 49.2V158.4M422.1 49.2H424.9M422.1 158.4H424.9"/>
</g>
<path d="M423.5 101.8L425.4 105.3H421.6Z" fill="#0000ff" stroke="#6a6a6a" stroke-width="0.3"/>
<g stroke="#686868" stroke-width="0.45" fill="none">
<path d="M403.3 90.8H481.3M403.3 89.4V92.2M481.3 89.4V92.2"/>
<path d="M442.3 62.7V118.9M440.9 62.7H443.7M440.9 118.9H443.7"/>
</g>
<path d="M442.3 88.8L444.2 92.3H440.4Z" fill="#0000ff" stroke="#6a6a6a" stroke-width="0.3"/>
<g stroke="#686868" stroke-width="0.45" fill="none">
<path d="M416.2 72.4H455.2M416.2 71.0V73.8M455.2 71.0V73.8"/>
<path d="M435.7 46.0V98.8M434.3 46.0H437.1M434.3 98.8H437.1"/>
</g>
<path d="M435.7 70.4L437.6 73.9H433.8Z" fill="#0000ff" stroke="#6a6a6a" stroke-width="0.3"/>
<g stroke="#686868" stroke-width="0.45" fill="none">
<path d="M419.5 74.2H498.5M419.5 72.8V75.6M498.5 72.8V75.6"/>
<path d="M459.0 3.2V145.2M457.6 3.2H460.4M457.6 145.2H460.4"/>
</g>
<path d="M459.0 72.2L460.9 75.7H457.1Z" fill="#0000ff" stroke="#6a6a6a" stroke-width="0.3"/>
<g stroke="#686868" stroke-width="0.45" fill="none">
<path d="M407.1 85.6H458.7M407.1 84.2V87.0M458.7 84.2V87.0"/>
<path d="M432.9 60.5V110.7M431.5 60.5H434.3M431.5 110.7H434.3"/>
</g>
<path d="M432.9 83.6L434.8 87.1H431.0Z" fill="#0000ff" stroke="#6a6a6a" stroke-width="0.3"/>
<g stroke="#686868" stroke-width="0.45" fill="none">
<path d="M395.6 83.4H461.6M395.6 82.0V84.8M461.6 82.0V84.8"/>
<path d="M428.6 40.7V126.1M427.2 40.7H430.0M427.2 126.1H430.0"/>
</g>
<path d="M428.6 81.4L430.5 84.9H426.8Z" fill="#0000ff" stroke="#6a6a6a" stroke-width="0.3"/>
<g stroke="#686868" stroke-width="0.45" fill="none">
<path d="M399.5 101.7H442.5M399.5 100.3V103.1M442.5 100.3V103.1"/>
<path d="M421.0 44.2V159.2M419.6 44.2H422.4M419.6 159.2H422.4"/>
</g>
<path d="M421.0 99.7L422.9 103.2H419.1Z" fill="#0000ff" stroke="#6a6a6a" stroke-width="0.3"/>
<g stroke="#686868" stroke-width="0.45" fill="none">
<path d="M388.2 140.1H437.6M388.2 138.7V141.5M437.6 138.7V141.5"/>
<path d="M412.9 114.4V165.8M411.5 114.4H414.3M411.5 165.8H414.3"/>
</g>
<path d="M412.9 138.1L414.8 141.6H411.0Z" fill="#0000ff" stroke="#6a6a6a" stroke-width="0.3"/>
<g stroke="#686868" stroke-width="0.45" fill="none">
<path d="M322.2 199.5H375.2M322.2 198.1V200.9M375.2 198.1V200.9"/>
<path d="M348.7 171.9V227.1M347.3 171.9H350.1M347.3 227.1H350.1"/>
</g>
<path d="M348.7 197.5L350.6 201.0H346.8Z" fill="#ff0000" stroke="#6a6a6a" stroke-width="0.3"/>
<g stroke="#686868" stroke-width="0.45" fill="none">
<path d="M374.2 169.6H413.8M374.2 168.2V171.0M413.8 168.2V171.0"/>
<path d="M394.0 134.3V204.9M392.6 134.3H395.4M392.6 204.9H395.4"/>
</g>
<path d="M394.0 167.6L395.9 171.1H392.1Z" fill="#ff0000" stroke="#6a6a6a" stroke-width="0.3"/>
<g stroke="#686868" stroke-width="0.45" fill="none">
<path d="M324.8 208.9H367.2M324.8 207.5V210.3M367.2 207.5V210.3"/>
<path d="M346.0 194.4V223.4M344.6 194.4H347.4M344.6 223.4H347.4"/>
</g>
<path d="M346.0 206.9L347.9 210.4H344.1Z" fill="#ff0000" stroke="#6a6a6a" stroke-width="0.3"/>
<g stroke="#686868" stroke-width="0.45" fill="none">
<path d="M331.9 192.3H389.7M331.9 190.9V193.7M389.7 190.9V193.7"/>
<path d="M360.8 167.2V217.4M359.4 167.2H362.2M359.4 217.4H362.2"/>
</g>
<path d="M360.8 190.3L362.7 193.8H358.9Z" fill="#ff0000" stroke="#6a6a6a" stroke-width="0.3"/>
<g stroke="#686868" stroke-width="0.45" fill="none">
<path d="M359.1 207.2H379.9M359.1 205.8V208.6M379.9 205.8V208.6"/>
<path d="M369.5 189.3V225.1M368.1 189.3H370.9M368.1 225.1H370.9"/>
</g>
<path d="M369.5 205.2L371.4 208.7H367.6Z" fill="#ff0000" stroke="#6a6a6a" stroke-width="0.3"/>
<g stroke="#686868" stroke-width="0.45" fill="none">
<path d="M421.6 88.3H494.6M421.6 86.9V89.7M494.6 86.9V89.7"/>
<path d="M458.1 43.0V133.6M456.7 43.0H459.5M456.7 133.6H459.5"/>
</g>
<path d="M458.1 86.3L460.0 89.8H456.2Z" fill="#ff0000" stroke="#6a6a6a" stroke-width="0.3"/>
<g stroke="#686868" stroke-width="0.45" fill="none">
<path d="M337.8 212.6H365.2M337.8 211.2V214.0M365.2 211.2V214.0"/>
<path d="M351.5 202.5V222.7M350.1 202.5H352.9M350.1 222.7H352.9"/>
</g>
<path d="M351.5 210.6L353.4 214.1H349.6Z" fill="#ff0000" stroke="#6a6a6a" stroke-width="0.3"/>
<g stroke="#686868" stroke-width="0.45" fill="none">
<path d="M334.1 208.1H372.5M334.1 206.7V209.5M372.5 206.7V209.5"/>
<path d="M353.3 187.6V228.6M351.9 187.6H354.7M351.9 228.6H354.7"/>
</g>
<path d="M353.3 206.1L355.2 209.6H351.4Z" fill="#ff0000" stroke="#6a6a6a" stroke-width="0.3"/>
<g stroke="#686868" stroke-width="0.45" fill="none">
<path d="M406.7 103.2H479.7M406.7 101.8V104.6M479.7 101.8V104.6"/>
<path d="M443.2 77.4V129.0M441.8 77.4H444.6M441.8 129.0H444.6"/>
</g>
<path d="M443.2 101.2L445.1 104.7H441.3Z" fill="#ff0000" stroke="#6a6a6a" stroke-width="0.3"/>
<g stroke="#686868" stroke-width="0.45" fill="none">
<path d="M342.4 183.6H389.4M342.4 182.2V185.0M389.4 182.2V185.0"/>
<path d="M365.9 163.1V204.1M364.5 163.1H367.3M364.5 204.1H367.3"/>
</g>
<path d="M365.9 181.6L367.8 185.1H364.0Z" fill="#ff0000" stroke="#6a6a6a" stroke-width="0.3"/>
<g stroke="#686868" stroke-width="0.45" fill="none">
<path d="M334.7 205.4H375.5M334.7 204.0V206.8M375.5 204.0V206.8"/>
<path d="M355.1 185.4V225.4M353.7 185.4H356.5M353.7 225.4H356.5"/>
</g>
<path d="M355.1 203.4L357.0 206.9H353.2Z" fill="#ff0000" stroke="#6a6a6a" stroke-width="0.3"/>
<g stroke="#686868" stroke-width="0.45" fill="none">
<path d="M343.2 192.9H381.0M343.2 191.5V194.3M381.0 191.5V194.3"/>
<path d="M362.1 171.9V213.9M360.7 171.9H363.5M360.7 213.9H363.5"/>
</g>
<path d="M362.1 190.9L364.0 194.4H360.2Z" fill="#ff0000" stroke="#6a6a6a" stroke-width="0.3"/>
<g stroke="#686868" stroke-width="0.45" fill="none">
<path d="M324.0 180.4H418.0M324.0 179.0V181.8M418.0 179.0V181.8"/>
<path d="M371.0 141.5V219.3M369.6 141.5H372.4M369.6 219.3H372.4"/>
</g>
<path d="M371.0 178.4L372.9 181.9H369.1Z" fill="#ff0000" stroke="#6a6a6a" stroke-width="0.3"/>
<g stroke="#686868" stroke-width="0.45" fill="none">
<path d="M380.2 111.8H454.2M380.2 110.4V113.2M454.2 110.4V113.2"/>
<path d="M417.2 79.2V144.4M415.8 79.2H418.6M415.8 144.4H418.6"/>
</g>
<path d="M417.2 109.8L419.1 113.3H415.3Z" fill="#ff0000" stroke="#6a6a6a" stroke-width="0.3"/>
<g stroke="#686868" stroke-width="0.45" fill="none">
<path d="M345.5 191.3H396.7M345.5 189.9V192.7M396.7 189.9V192.7"/>
<path d="M371.1 167.8V214.8M369.7 167.8H372.5M369.7 214.8H372.5"/>
</g>
<path d="M371.1 189.3L373.0 192.8H369.2Z" fill="#ff0000" stroke="#6a6a6a" stroke-width="0.3"/>
<g stroke="#686868" stroke-width="0.45" fill="none">
<path d="M314.8 208.6H371.2M314.8 207.2V210.0M371.2 207.2V210.0"/>
<path d="M343.0 192.2V225.0M341.6 192.2H344.4M341.6 225.0H344.4"/>
</g>
<path d="M343.0 206.6L344.9 210.1H341.1Z" fill="#ff0000" stroke="#6a6a6a" stroke-width="0.3"/>
<g stroke="#686868" stroke-width="0.45" fill="none">
<path d="M349.7 196.6H376.5M349.7 195.2V198.0M376.5 195.2V198.0"/>
<path d="M363.1 184.3V208.9M361.7 184.3H364.5M361.7 208.9H364.5"/>
</g>
<path d="M363.1 194.6L365.0 198.1H361.2Z" fill="#ff0000" stroke="#6a6a6a" stroke-width="0.3"/>
<g stroke="#686868" stroke-width="0.45" fill="none">
<path d="M395.0 127.5H456.2M395.0 126.1V128.9M456.2 126.1V128.9"/>
<path d="M425.6 99.9V155.1M424.2 99.9H427.0M424.2 155.1H427.0"/>
</g>
<path d="M425.6 125.5L427.5 129.0H423.8Z" fill="#ff0000" stroke="#6a6a6a" stroke-width="0.3"/>
<g stroke="#686868" stroke-width="0.45" fill="none">
<path d="M374.1 142.9H455.9M374.1 141.5V144.3M455.9 141.5V144.3"/>
<path d="M415.0 102.1V183.7M413.6 102.1H416.4M413.6 183.7H416.4"/>
</g>
<path d="M415.0 140.9L416.9 144.4H413.1Z" fill="#ff0000" stroke="#6a6a6a" stroke-width="0.3"/>
<g stroke="#686868" stroke-width="0.45" fill="none">
<path d="M329.3 201.7H380.7M329.3 200.3V203.1M380.7 200.3V203.1"/>
<path d="M355.0 189.8V213.6M353.6 189.8H356.4M353.6 213.6H356.4"/>
</g>
<path d="M355.0 199.7L356.9 203.2H353.1Z" fill="#ff0000" stroke="#6a6a6a" stroke-width="0.3"/>
<g stroke="#686868" stroke-width="0.45" fill="none">
<path d="M335.4 197.8H381.6M335.4 196.4V199.2M381.6 196.4V199.2"/>
<path d="M358.5 181.5V214.1M357.1 181.5H359.9M357.1 214.1H359.9"/>
</g>
<path d="M358.5 195.8L360.4 199.3H356.6Z" fill="#ff0000" stroke="#6a6a6a" stroke-width="0.3"/>
<g stroke="#686868" stroke-width="0.45" fill="none">
<path d="M330.9 201.8H388.3M330.9 200.4V203.2M388.3 200.4V203.2"/>
<path d="M359.6 184.0V219.6M358.2 184.0H361.0M358.2 219.6H361.0"/>
</g>
<path d="M359.6 199.8L361.5 203.3H357.8Z" fill="#ff0000" stroke="#6a6a6a" stroke-width="0.3"/>
<g stroke="#686868" stroke-width="0.45" fill="none">
<path d="M422.3 81.5H468.9M422.3 80.1V82.9M468.9 80.1V82.9"/>
<path d="M445.6 50.5V112.5M444.2 50.5H447.0M444.2 112.5H447.0"/>
</g>
<path d="M445.6 79.5L447.5 83.0H443.8Z" fill="#ff0000" stroke="#6a6a6a" stroke-width="0.3"/>
<g stroke="#686868" stroke-width="0.45" fill="none">
<path d="M325.8 211.8H366.2M325.8 210.4V213.2M366.2 210.4V213.2"/>
<path d="M346.0 191.7V231.9M344.6 191.7H347.4M344.6 231.9H347.4"/>
</g>
<path d="M346.0 209.8L347.9 213.3H344.1Z" fill="#ff0000" stroke="#6a6a6a" stroke-width="0.3"/>
<g stroke="#686868" stroke-width="0.45" fill="none">
<path d="M340.9 197.4H397.1M340.9 196.0V198.8M397.1 196.0V198.8"/>
<path d="M369.0 179.8V215.0M367.6 179.8H370.4M367.6 215.0H370.4"/>
</g>
<path d="M369.0 195.4L370.9 198.9H367.1Z" fill="#ff0000" stroke="#6a6a6a" stroke-width="0.3"/>
<g stroke="#686868" stroke-width="0.45" fill="none">
<path d="M329.2 199.5H386.8M329.2 198.1V200.9M386.8 198.1V200.9"/>
<path d="M358.0 176.9V222.1M356.6 176.9H359.4M356.6 222.1H359.4"/>
</g>
<path d="M358.0 197.5L359.9 201.0H356.1Z" fill="#ff0000" stroke="#6a6a6a" stroke-width="0.3"/>
<g stroke="#686868" stroke-width="0.45" fill="none">
<path d="M361.6 190.7H400.8M361.6 189.3V192.1M400.8 189.3V192.1"/>
<path d="M381.2 168.9V212.5M379.8 168.9H382.6M379.8 212.5H382.6"/>
</g>
<path d="M381.2 188.7L383.1 192.2H379.3Z" fill="#ff0000" stroke="#6a6a6a" stroke-width="0.3"/>
<g stroke="#686868" stroke-width="0.45" fill="none">
<path d="M408.2 128.5H452.6M408.2 127.1V129.9M452.6 127.1V129.9"/>
<path d="M430.4 93.2V163.8M429.0 93.2H431.8M429.0 163.8H431.8"/>
</g>
<path d="M430.4 126.5L432.2 130.0H428.5Z" fill="#ff0000" stroke="#6a6a6a" stroke-width="0.3"/>
<g stroke="#686868" stroke-width="0.45" fill="none">
<path d="M320.3 201.0H362.3M320.3 199.6V202.4M362.3 199.6V202.4"/>
<path d="M341.3 188.6V213.4M339.9 188.6H342.7M339.9 213.4H342.7"/>
</g>
<path d="M341.3 199.0L343.2 202.5H339.4Z" fill="#ff0000" stroke="#6a6a6a" stroke-width="0.3"/>
<g stroke="#686868" stroke-width="0.45" fill="none">
<path d="M391.6 122.9H437.0M391.6 121.5V124.3M437.0 121.5V124.3"/>
<path d="M414.3 83.9V161.9M412.9 83.9H415.7M412.9 161.9H415.7"/>
</g>
<path d="M414.3 120.9L416.2 124.4H412.4Z" fill="#ff0000" stroke="#6a6a6a" stroke-width="0.3"/>
<g stroke="#686868" stroke-width="0.45" fill="none">
<path d="M373.2 158.2H437.4M373.2 156.8V159.6M437.4 156.8V159.6"/>
<path d="M405.3 136.7V179.7M403.9 136.7H406.7M403.9 179.7H406.7"/>
</g>
<path d="M405.3 156.2L407.2 159.7H403.4Z" fill="#ff0000" stroke="#6a6a6a" stroke-width="0.3"/>
<g stroke="#686868" stroke-width="0.45" fill="none">
<path d="M367.3 174.6H422.3M367.3 173.2V176.0M422.3 173.2V176.0"/>
<path d="M394.8 150.7V198.5M393.4 150.7H396.2M393.4 198.5H396.2"/>
</g>
<path d="M394.8 172.6L396.7 176.1H392.9Z" fill="#ff0000" stroke="#6a6a6a" stroke-width="0.3"/>
<g stroke="#686868" stroke-width="0.45" fill="none">
<path d="M320.7 207.2H360.9M320.7 205.8V208.6M360.9 205.8V208.6"/>
<path d="M340.8 188.0V226.4M339.4 188.0H342.2M339.4 226.4H342.2"/>
</g>
<path d="M340.8 205.2L342.7 208.7H338.9Z" fill="#ff0000" stroke="#6a6a6a" stroke-width="0.3"/>
<g stroke="#686868" stroke-width="0.45" fill="none">
<path d="M348.7 197.3H405.5M348.7 195.9V198.7M405.5 195.9V198.7"/>
<path d="M377.1 178.3V216.3M375.7 178.3H378.5M375.7 216.3H378.5"/>
</g>
<path d="M377.1 195.3L379.0 198.8H375.2Z" fill="#ff0000" stroke="#6a6a6a" stroke-width="0.3"/>
<g stroke="#686868" stroke-width="0.45" fill="none">
<path d="M336.2 201.2H356.8M336.2 199.8V202.6M356.8 199.8V202.6"/>
<path d="M346.5 173.7V228.7M345.1 173.7H347.9M345.1 228.7H347.9"/>
</g>
<path d="M346.5 199.2L348.4 202.7H344.6Z" fill="#ff0000" stroke="#6a6a6a" stroke-width="0.3"/>
<g stroke="#686868" stroke-width="0.45" fill="none">
<path d="M323.1 204.1H377.9M323.1 202.7V205.5M377.9 202.7V205.5"/>
<path d="M350.5 179.2V229.0M349.1 179.2H351.9M349.1 229.0H351.9"/>
</g>
<path d="M350.5 202.1L352.4 205.6H348.6Z" fill="#ff0000" stroke="#6a6a6a" stroke-width="0.3"/>
<g stroke="#686868" stroke-width="0.45" fill="none">
<path d="M356.3 151.8H454.3M356.3 150.4V153.2M454.3 150.4V153.2"/>
<path d="M405.3 123.6V180.0M403.9 123.6H406.7M403.9 180.0H406.7"/>
</g>
<path d="M405.3 149.8L407.2 153.3H403.4Z" fill="#ff0000" stroke="#6a6a6a" stroke-width="0.3"/>
<g stroke="#686868" stroke-width="0.45" fill="none">
<path d="M332.6 200.4H378.6M332.6 199.0V201.8M378.6 199.0V201.8"/>
<path d="M355.6 180.9V219.9M354.2 180.9H357.0M354.2 219.9H357.0"/>
</g>
<path d="M355.6 198.4L357.5 201.9H353.8Z" fill="#ff0000" stroke="#6a6a6a" stroke-width="0.3"/>
<g stroke="#686868" stroke-width="0.45" fill="none">
<path d="M346.7 216.3H398.7M346.7 214.9V217.7M398.7 214.9V217.7"/>
<path d="M372.7 203.2V229.4M371.3 203.2H374.1M371.3 229.4H374.1"/>
</g>
<path d="M372.7 214.3L374.6 217.8H370.8Z" fill="#ff0000" stroke="#6a6a6a" stroke-width="0.3"/>
<g stroke="#686868" stroke-width="0.45" fill="none">
<path d="M366.6 148.4H422.6M366.6 147.0V149.8M422.6 147.0V149.8"/>
<path d="M394.6 107.1V189.7M393.2 107.1H396.0M393.2 189.7H396.0"/>
</g>
<path d="M394.6 146.4L396.5 149.9H392.8Z" fill="#ff0000" stroke="#6a6a6a" stroke-width="0.3"/>
<g stroke="#686868" stroke-width="0.45" fill="none">
<path d="M337.7 193.7H373.5M337.7 192.3V195.1M373.5 192.3V195.1"/>
<path d="M355.6 176.5V210.9M354.2 176.5H357.0M354.2 210.9H357.0"/>
</g>
<path d="M355.6 191.7L357.5 195.2H353.8Z" fill="#ff0000" stroke="#6a6a6a" stroke-width="0.3"/>
<g stroke="#686868" stroke-width="0.45" fill="none">
<path d="M360.4 176.3H390.0M360.4 174.9V177.7M390.0 174.9V177.7"/>
<path d="M375.2 160.6V192.0M373.8 160.6H376.6M373.8 192.0H376.6"/>
</g>
<path d="M375.2 174.3L377.1 177.8H373.3Z" fill="#ff0000" stroke="#6a6a6a" stroke-width="0.3"/>
<g stroke="#686868" stroke-width="0.45" fill="none">
<path d="M368.0 151.6H446.8M368.0 150.2V153.0M446.8 150.2V153.0"/>
<path d="M407.4 115.0V188.2M406.0 115.0H408.8M406.0 188.2H408.8"/>
</g>
<path d="M407.4 149.6L409.2 153.1H405.5Z" fill="#ff0000" stroke="#6a6a6a" stroke-width="0.3"/>
<g stroke="#686868" stroke-width="0.45" fill="none">
<path d="M354.4 186.1H382.6M354.4 184.7V187.5M382.6 184.7V187.5"/>
<path d="M368.5 164.9V207.3M367.1 164.9H369.9M367.1 207.3H369.9"/>
</g>
<path d="M368.5 184.1L370.4 187.6H366.6Z" fill="#ff0000" stroke="#6a6a6a" stroke-width="0.3"/>
<g stroke="#686868" stroke-width="0.45" fill="none">
<path d="M319.6 202.7H367.4M319.6 201.3V204.1M367.4 201.3V204.1"/>
<path d="M343.5 184.6V220.8M342.1 184.6H344.9M342.1 220.8H344.9"/>
</g>
<path d="M343.5 200.7L345.4 204.2H341.6Z" fill="#ff0000" stroke="#6a6a6a" stroke-width="0.3"/>
<g stroke="#686868" stroke-width="0.45" fill="none">
<path d="M416.0 106.9H475.2M416.0 105.5V108.3M475.2 105.5V108.3"/>
<path d="M445.6 63.5V150.3M444.2 63.5H447.0M444.2 150.3H447.0"/>
</g>
<path d="M445.6 104.9L447.5 108.4H443.8Z" fill="#ff0000" stroke="#6a6a6a" stroke-width="0.3"/>
<g stroke="#686868" stroke-width="0.45" fill="none">
<path d="M361.7 191.5H392.1M361.7 190.1V192.9M392.1 190.1V192.9"/>
<path d="M376.9 171.4V211.6M375.5 171.4H378.3M375.5 211.6H378.3"/>
</g>
<path d="M376.9 189.5L378.8 193.0H375.0Z" fill="#ff0000" stroke="#6a6a6a" stroke-width="0.3"/>
<g stroke="#686868" stroke-width="0.45" fill="none">
<path d="M340.3 197.8H366.3M340.3 196.4V199.2M366.3 196.4V199.2"/>
<path d="M353.3 171.5V224.1M351.9 171.5H354.7M351.9 224.1H354.7"/>
</g>
<path d="M353.3 195.8L355.2 199.3H351.4Z" fill="#ff0000" stroke="#6a6a6a" stroke-width="0.3"/>
<g stroke="#686868" stroke-width="0.45" fill="none">
<path d="M319.2 195.0H370.8M319.2 193.6V196.4M370.8 193.6V196.4"/>
<path d="M345.0 179.0V211.0M343.6 179.0H346.4M343.6 211.0H346.4"/>
</g>
<path d="M345.0 193.0L346.9 196.5H343.1Z" fill="#ff0000" stroke="#6a6a6a" stroke-width="0.3"/>
<g stroke="#686868" stroke-width="0.45" fill="none">
<path d="M330.1 193.7H387.9M330.1 192.3V195.1M387.9 192.3V195.1"/>
<path d="M359.0 170.7V216.7M357.6 170.7H360.4M357.6 216.7H360.4"/>
</g>
<path d="M359.0 191.7L360.9 195.2H357.1Z" fill="#ff0000" stroke="#6a6a6a" stroke-width="0.3"/>
<g stroke="#686868" stroke-width="0.45" fill="none">
<path d="M339.1 205.8H370.9M339.1 204.4V207.2M370.9 204.4V207.2"/>
<path d="M355.0 191.5V220.1M353.6 191.5H356.4M353.6 220.1H356.4"/>
</g>
<path d="M355.0 203.8L356.9 207.3H353.1Z" fill="#ff0000" stroke="#6a6a6a" stroke-width="0.3"/>
<g stroke="#686868" stroke-width="0.45" fill="none">
<path d="M333.3 193.9H388.3M333.3 192.5V195.3M388.3 192.5V195.3"/>
<path d="M360.8 166.9V220.9M359.4 166.9H362.2M359.4 220.9H362.2"/>
</g>
<path d="M360.8 191.9L362.7 195.4H358.9Z" fill="#ff0000" stroke="#6a6a6a" stroke-width="0.3"/>
<g stroke="#686868" stroke-width="0.45" fill="none">
<path d="M351.4 181.2H402.6M351.4 179.8V182.6M402.6 179.8V182.6"/>
<path d="M377.0 142.8V219.6M375.6 142.8H378.4M375.6 219.6H378.4"/>
</g>
<path d="M377.0 179.2L378.9 182.7H375.1Z" fill="#ff0000" stroke="#6a6a6a" stroke-width="0.3"/>
<g stroke="#686868" stroke-width="0.45" fill="none">
<path d="M324.9 205.8H398.9M324.9 204.4V207.2M398.9 204.4V207.2"/>
<path d="M361.9 191.1V220.5M360.5 191.1H363.3M360.5 220.5H363.3"/>
</g>
<path d="M361.9 203.8L363.8 207.3H360.0Z" fill="#ff0000" stroke="#6a6a6a" stroke-width="0.3"/>
<g stroke="#686868" stroke-width="0.45" fill="none">
<path d="M344.8 173.1H414.8M344.8 171.7V174.5M414.8 171.7V174.5"/>
<path d="M379.8 137.6V208.6M378.4 137.6H381.2M378.4 208.6H381.2"/>
</g>
<path d="M379.8 171.1L381.7 174.6H377.9Z" fill="#ff0000" stroke="#6a6a6a" stroke-width="0.3"/>
<g stroke="#686868" stroke-width="0.45" fill="none">
<path d="M358.4 199.9H416.4M358.4 198.5V201.3M416.4 198.5V201.3"/>
<path d="M387.4 180.5V219.3M386.0 180.5H388.8M386.0 219.3H388.8"/>
</g>
<path d="M387.4 197.9L389.2 201.4H385.5Z" fill="#ff0000" stroke="#6a6a6a" stroke-width="0.3"/>
<g stroke="#686868" stroke-width="0.45" fill="none">
<path d="M406.8 111.4H472.8M406.8 110.0V112.8M472.8 110.0V112.8"/>
<path d="M439.8 75.5V147.3M438.4 75.5H441.2M438.4 147.3H441.2"/>
</g>
<path d="M439.8 109.4L441.7 112.9H437.9Z" fill="#ff0000" stroke="#6a6a6a" stroke-width="0.3"/>
<g stroke="#686868" stroke-width="0.45" fill="none">
<path d="M368.9 170.9H448.1M368.9 169.5V172.3M448.1 169.5V172.3"/>
<path d="M408.5 134.6V207.2M407.1 134.6H409.9M407.1 207.2H409.9"/>
</g>
<path d="M408.5 168.9L410.4 172.4H406.6Z" fill="#ff0000" stroke="#6a6a6a" stroke-width="0.3"/>
<g stroke="#686868" stroke-width="0.45" fill="none">
<path d="M370.2 165.3H460.2M370.2 163.9V166.7M460.2 163.9V166.7"/>
<path d="M415.2 137.0V193.6M413.8 137.0H416.6M413.8 193.6H416.6"/>
</g>
<path d="M415.2 163.3L417.1 166.8H413.3Z" fill="#ff0000" stroke="#6a6a6a" stroke-width="0.3"/>
<g stroke="#686868" stroke-width="0.45" fill="none">
<path d="M336.3 167.3H422.3M336.3 165.9V168.7M422.3 165.9V168.7"/>
<path d="M379.3 112.3V222.3M377.9 112.3H380.7M377.9 222.3H380.7"/>
</g>
<path d="M379.3 165.3L381.2 168.8H377.4Z" fill="#ff0000" stroke="#6a6a6a" stroke-width="0.3"/>
<g stroke="#686868" stroke-width="0.45" fill="none">
<path d="M330.3 207.5H367.1M330.3 206.1V208.9M367.1 206.1V208.9"/>
<path d="M348.7 195.1V219.9M347.3 195.1H350.1M347.3 219.9H350.1"/>
</g>
<path d="M348.7 205.5L350.6 209.0H346.8Z" fill="#ff0000" stroke="#6a6a6a" stroke-width="0.3"/>
<g stroke="#686868" stroke-width="0.45" fill="none">
<path d="M407.8 85.7H466.2M407.8 84.3V87.1M466.2 84.3V87.1"/>
<path d="M437.0 49.6V121.8M435.6 49.6H438.4M435.6 121.8H438.4"/>
</g>
<path d="M437.0 83.7L438.9 87.2H435.1Z" fill="#ff0000" stroke="#6a6a6a" stroke-width="0.3"/>
<g stroke="#686868" stroke-width="0.45" fill="none">
<path d="M316.9 197.8H369.1M316.9 196.4V199.2M369.1 196.4V199.2"/>
<path d="M343.0 185.2V210.4M341.6 185.2H344.4M341.6 210.4H344.4"/>
</g>
<path d="M343.0 195.8L344.9 199.3H341.1Z" fill="#ff0000" stroke="#6a6a6a" stroke-width="0.3"/>
<g stroke="#686868" stroke-width="0.45" fill="none">
<path d="M384.2 163.1H431.2M384.2 161.7V164.5M431.2 161.7V164.5"/>
<path d="M407.7 143.9V182.3M406.3 143.9H409.1M406.3 182.3H409.1"/>
</g>
<path d="M407.7 161.1L409.6 164.6H405.8Z" fill="#ff0000" stroke="#6a6a6a" stroke-width="0.3"/>
<g stroke="#686868" stroke-width="0.45" fill="none">
<path d="M335.2 186.0H391.2M335.2 184.6V187.4M391.2 184.6V187.4"/>
<path d="M363.2 160.9V211.1M361.8 160.9H364.6M361.8 211.1H364.6"/>
</g>
<path d="M363.2 184.0L365.1 187.5H361.3Z" fill="#ff0000" stroke="#6a6a6a" stroke-width="0.3"/>
<g stroke="#686868" stroke-width="0.45" fill="none">
<path d="M333.0 192.1H372.2M333.0 190.7V193.5M372.2 190.7V193.5"/>
<path d="M352.6 178.9V205.3M351.2 178.9H354.0M351.2 205.3H354.0"/>
</g>
<path d="M352.6 190.1L354.5 193.6H350.8Z" fill="#ff0000" stroke="#6a6a6a" stroke-width="0.3"/>
<g stroke="#686868" stroke-width="0.45" fill="none">
<path d="M332.3 204.6H360.7M332.3 203.2V206.0M360.7 203.2V206.0"/>
<path d="M346.5 190.1V219.1M345.1 190.1H347.9M345.1 219.1H347.9"/>
</g>
<path d="M346.5 202.6L348.4 206.1H344.6Z" fill="#ff0000" stroke="#6a6a6a" stroke-width="0.3"/>
<g stroke="#686868" stroke-width="0.45" fill="none">
<path d="M358.3 174.7H424.7M358.3 173.3V176.1M424.7 173.3V176.1"/>
<path d="M391.5 154.0V195.4M390.1 154.0H392.9M390.1 195.4H392.9"/>
</g>
<path d="M391.5 172.7L393.4 176.2H389.6Z" fill="#ff0000" stroke="#6a6a6a" stroke-width="0.3"/>
<g stroke="#686868" stroke-width="0.45" fill="none">
<path d="M333.6 204.3H375.0M333.6 202.9V205.7M375.0 202.9V205.7"/>
<path d="M354.3 185.7V222.9M352.9 185.7H355.7M352.9 222.9H355.7"/>
</g>
<path d="M354.3 202.3L356.2 205.8H352.4Z" fill="#ff0000" stroke="#6a6a6a" stroke-width="0.3"/>
<g stroke="#686868" stroke-width="0.45" fill="none">
<path d="M345.8 191.0H376.8M345.8 189.6V192.4M376.8 189.6V192.4"/>
<path d="M361.3 167.1V214.9M359.9 167.1H362.7M359.9 214.9H362.7"/>
</g>
<path d="M361.3 189.0L363.2 192.5H359.4Z" fill="#ff0000" stroke="#6a6a6a" stroke-width="0.3"/>
<g stroke="#686868" stroke-width="0.45" fill="none">
<path d="M407.1 134.8H458.7M407.1 133.4V136.2M458.7 133.4V136.2"/>
<path d="M432.9 84.9V184.7M431.5 84.9H434.3M431.5 184.7H434.3"/>
</g>
<path d="M432.9 132.8L434.8 136.3H431.0Z" fill="#ff0000" stroke="#6a6a6a" stroke-width="0.3"/>
<g stroke="#686868" stroke-width="0.45" fill="none">
<path d="M421.3 117.0H466.7M421.3 115.6V118.4M466.7 115.6V118.4"/>
<path d="M444.0 66.5V167.5M442.6 66.5H445.4M442.6 167.5H445.4"/>
</g>
<path d="M444.0 115.0L445.9 118.5H442.1Z" fill="#ff0000" stroke="#6a6a6a" stroke-width="0.3"/>
<g stroke="#686868" stroke-width="0.45" fill="none">
<path d="M414.3 65.2H474.3M414.3 63.8V66.6M474.3 63.8V66.6"/>
<path d="M444.3 36.2V94.2M442.9 36.2H445.7M442.9 94.2H445.7"/>
</g>
<path d="M444.3 63.2L446.2 66.7H442.4Z" fill="#ff0000" stroke="#6a6a6a" stroke-width="0.3"/>
<g stroke="#686868" stroke-width="0.45" fill="none">
<path d="M322.7 195.5H374.7M322.7 194.1V196.9M374.7 194.1V196.9"/>
<path d="M348.7 168.0V223.0M347.3 168.0H350.1M347.3 223.0H350.1"/>
</g>
<path d="M348.7 193.5L350.6 197.0H346.8Z" fill="#ff0000" stroke="#6a6a6a" stroke-width="0.3"/>
<g stroke="#686868" stroke-width="0.45" fill="none">
<path d="M405.1 105.0H451.7M405.1 103.6V106.4M451.7 103.6V106.4"/>
<path d="M428.4 77.0V133.0M427.0 77.0H429.8M427.0 133.0H429.8"/>
</g>
<path d="M428.4 103.0L430.2 106.5H426.5Z" fill="#ff0000" stroke="#6a6a6a" stroke-width="0.3"/>
<g stroke="#686868" stroke-width="0.45" fill="none">
<path d="M366.9 183.5H430.9M366.9 182.1V184.9M430.9 182.1V184.9"/>
<path d="M398.9 144.6V222.4M397.5 144.6H400.3M397.5 222.4H400.3"/>
</g>
<path d="M398.9 181.5L400.8 185.0H397.0Z" fill="#ff0000" stroke="#6a6a6a" stroke-width="0.3"/>
<g stroke="#686868" stroke-width="0.45" fill="none">
<path d="M325.0 178.4H377.6M325.0 177.0V179.8M377.6 177.0V179.8"/>
<path d="M351.3 145.3V211.5M349.9 145.3H352.7M349.9 211.5H352.7"/>
</g>
<path d="M351.3 176.4L353.2 179.9H349.4Z" fill="#ff0000" stroke="#6a6a6a" stroke-width="0.3"/>
<g stroke="#686868" stroke-width="0.45" fill="none">
<path d="M324.8 188.6H396.8M324.8 187.2V190.0M396.8 187.2V190.0"/>
<path d="M360.8 177.1V200.1M359.4 177.1H362.2M359.4 200.1H362.2"/>
</g>
<path d="M360.8 186.6L362.7 190.1H358.9Z" fill="#ff0000" stroke="#6a6a6a" stroke-width="0.3"/>
<g stroke="#686868" stroke-width="0.45" fill="none">
<path d="M321.0 215.6H371.4M321.0 214.2V217.0M371.4 214.2V217.0"/>
<path d="M346.2 189.2V242.0M344.8 189.2H347.6M344.8 242.0H347.6"/>
</g>
<path d="M346.2 213.6L348.1 217.1H344.3Z" fill="#ff0000" stroke="#6a6a6a" stroke-width="0.3"/>
</g>
<line x1="33.9" y1="226.5" x2="236.7" y2="3.5" stroke="#000" stroke-width="1.55" stroke-dasharray="3.4 3.165"/>
<line x1="323.7" y1="226.5" x2="526.6" y2="3.5" stroke="#000" stroke-width="1.55" stroke-dasharray="3.4 3.165"/>
<path d="M34.5 3V226.5" stroke="#8a8a8a" stroke-width="1" fill="none"/>
<path d="M323.3 3V226.5" stroke="#999999" stroke-width="1" fill="none"/>
<path d="M34 226.5H237M323 226.5H527" stroke="#7a7a7a" stroke-width="1" fill="none"/>
<path d="M56.5 226v-2.5M101.5 226v-2.5M146.5 226v-2.5M191.5 226v-2.5M236.5 226v-2.5M35 201.5h2M35 176.5h2M35 152.5h2M35 127.5h2M35 102.5h2M35 77.5h2M35 53.5h2M35 28.5h2M35 3.5h2M364.5 226v-2.5M324 181.5h2M404.5 226v-2.5M324 137.5h2M445.5 226v-2.5M324 92.5h2M486.5 226v-2.5M324 48.5h2M526.5 226v-2.5M324 3.5h2" stroke="#7a7a7a" stroke-width="1" fill="none"/>
<g font-family="Liberation Sans, sans-serif" fill="#1a1a1a" font-size="10" stroke="#1a1a1a" stroke-width="0.25">
<text x="31.5" y="230.9" text-anchor="end">-10</text>
<text x="31.5" y="206.1" text-anchor="end">0</text>
<text x="31.5" y="181.3" text-anchor="end">10</text>
<text x="31.5" y="156.6" text-anchor="end">20</text>
<text x="31.5" y="131.8" text-anchor="end">30</text>
<text x="31.5" y="107.0" text-anchor="end">40</text>
<text x="31.5" y="82.2" text-anchor="end">50</text>
<text x="31.5" y="57.5" text-anchor="end">60</text>
<text x="31.5" y="32.7" text-anchor="end">70</text>
<text x="31.5" y="7.9" text-anchor="end">80</text>
<text x="56.7" y="239.6" text-anchor="middle">0</text>
<text x="101.8" y="239.6" text-anchor="middle">20</text>
<text x="146.9" y="239.6" text-anchor="middle">40</text>
<text x="191.9" y="239.6" text-anchor="middle">60</text>
<text x="237.0" y="239.6" text-anchor="middle">80</text>
<text x="321.3" y="230.9" text-anchor="end">0</text>
<text x="324.0" y="239.6" text-anchor="middle">0</text>
<text x="321.3" y="186.3" text-anchor="end">0.5</text>
<text x="364.6" y="239.6" text-anchor="middle">0.5</text>
<text x="321.3" y="141.7" text-anchor="end">1</text>
<text x="405.2" y="239.6" text-anchor="middle">1</text>
<text x="321.3" y="97.1" text-anchor="end">1.5</text>
<text x="445.7" y="239.6" text-anchor="middle">1.5</text>
<text x="321.3" y="52.5" text-anchor="end">2</text>
<text x="486.3" y="239.6" text-anchor="middle">2</text>
<text x="321.3" y="7.9" text-anchor="end">2.5</text>
<text x="526.9" y="239.6" text-anchor="middle">2.5</text>
</g>
<g font-family="Liberation Sans, sans-serif" fill="#000" font-size="12.6" stroke="#000" stroke-width="0.35">
<text x="36.7" y="19.7" letter-spacing="0.3">a)</text>
<text x="326.3" y="19.7" letter-spacing="0.2">b)</text>
</g>
<g font-family="Liberation Sans, sans-serif" fill="#1a1a1a" stroke="#1a1a1a" stroke-width="0.22">
<text x="104.6" y="251.7" font-size="10">E</text>
<text x="111.4" y="256.6" font-size="8.6" textLength="18.6" lengthAdjust="spacingAndGlyphs">ELM,</text>
<text x="131.9" y="256.6" font-size="9.2">Δ</text>
<text x="140.7" y="256.6" font-size="8.8">T</text>
<text x="148.9" y="251.7" font-size="10" textLength="16.2" lengthAdjust="spacingAndGlyphs">[kJ]</text>
<text x="391.8" y="254.7" font-size="8.6">ϵ</text>
<text x="395.6" y="260.1" font-size="8.8">||,</text>
<text x="402.6" y="260.1" font-size="9.2">Δ</text>
<text x="411.9" y="260.1" font-size="8.8">T</text>
<text x="420.6" y="254.7" font-size="10" textLength="28.8" lengthAdjust="spacingAndGlyphs">[MJ/m</text>
<text x="450.3" y="249.7" font-size="8">2</text>
<text x="455.5" y="254.7" font-size="10">]</text>
</g>
<g font-family="Liberation Sans, sans-serif" fill="#1a1a1a" stroke="#1a1a1a" stroke-width="0.22" transform="translate(7.8 0) rotate(-90)">
<text x="-140.1" y="0" font-size="10">E</text>
<text x="-133.9" y="5.1" font-size="8.6" textLength="25.6" lengthAdjust="spacingAndGlyphs">ELM,q</text>
<text x="-104.9" y="0" font-size="10" textLength="16.0" lengthAdjust="spacingAndGlyphs">[kJ]</text>
</g>
<g font-family="Liberation Sans, sans-serif" fill="#1a1a1a" stroke="#1a1a1a" stroke-width="0.22" transform="translate(299 0) rotate(-90)">
<text x="-143.6" y="0" font-size="8.6">ϵ</text>
<text x="-138.6" y="5.5" font-size="8.6" textLength="11.2" lengthAdjust="spacingAndGlyphs">||,q</text>
<text x="-124.2" y="0" font-size="10" textLength="28.8" lengthAdjust="spacingAndGlyphs">[MJ/m</text>
<text x="-94.6" y="-5.0" font-size="8">2</text>
<text x="-89.6" y="0" font-size="10">]</text>
</g>
<rect x="185.5" y="198.5" width="46.80000000000001" height="22.69999999999999" fill="#fff" stroke="#6e6e6e" stroke-width="0.9"/>
<path d="M190.2 204.5H196.0M190.2 203.1V205.9M196.0 203.1V205.9M193.1 200.3V208.7M191.7 200.3H194.5M191.7 208.7H194.5" stroke="#7a7a7a" stroke-width="0.85" fill="none"/>
<circle cx="193.1" cy="204.5" r="1.8" fill="#0000ff" stroke="#6a6a6a" stroke-width="0.3"/>
<text x="201.1" y="207.7" font-family="Liberation Sans, sans-serif" font-size="8.8" fill="#000" stroke="#000" stroke-width="0.25">#38320</text>
<path d="M190.2 215.1H196.0M190.2 213.7V216.5M196.0 213.7V216.5M193.1 210.9V219.29999999999998M191.7 210.9H194.5M191.7 219.29999999999998H194.5" stroke="#7a7a7a" stroke-width="0.85" fill="none"/>
<circle cx="193.1" cy="215.1" r="1.8" fill="#ff0000" stroke="#6a6a6a" stroke-width="0.3"/>
<text x="201.1" y="218.29999999999998" font-family="Liberation Sans, sans-serif" font-size="8.8" fill="#000" stroke="#000" stroke-width="0.25">#39050</text>
<rect x="473.5" y="198.5" width="46.200000000000045" height="22.30000000000001" fill="#fff" stroke="#6e6e6e" stroke-width="0.9"/>
<path d="M478.40000000000003 204.5H484.2M478.40000000000003 203.1V205.9M484.2 203.1V205.9M481.3 200.3V208.7M479.90000000000003 200.3H482.7M479.90000000000003 208.7H482.7" stroke="#7a7a7a" stroke-width="0.85" fill="none"/>
<path d="M481.3 202.8L482.8 205.6H479.8Z" fill="#0000ff" stroke="#6a6a6a" stroke-width="0.3"/>
<text x="489.3" y="207.7" font-family="Liberation Sans, sans-serif" font-size="8.8" fill="#000" stroke="#000" stroke-width="0.25">#38320</text>
<path d="M478.40000000000003 215.1H484.2M478.40000000000003 213.7V216.5M484.2 213.7V216.5M481.3 210.9V219.29999999999998M479.90000000000003 210.9H482.7M479.90000000000003 219.29999999999998H482.7" stroke="#7a7a7a" stroke-width="0.85" fill="none"/>
<path d="M481.3 213.4L482.8 216.2H479.8Z" fill="#ff0000" stroke="#6a6a6a" stroke-width="0.3"/>
<text x="489.3" y="218.29999999999998" font-family="Liberation Sans, sans-serif" font-size="8.8" fill="#000" stroke="#000" stroke-width="0.25">#39050</text>
</svg></body></html>
